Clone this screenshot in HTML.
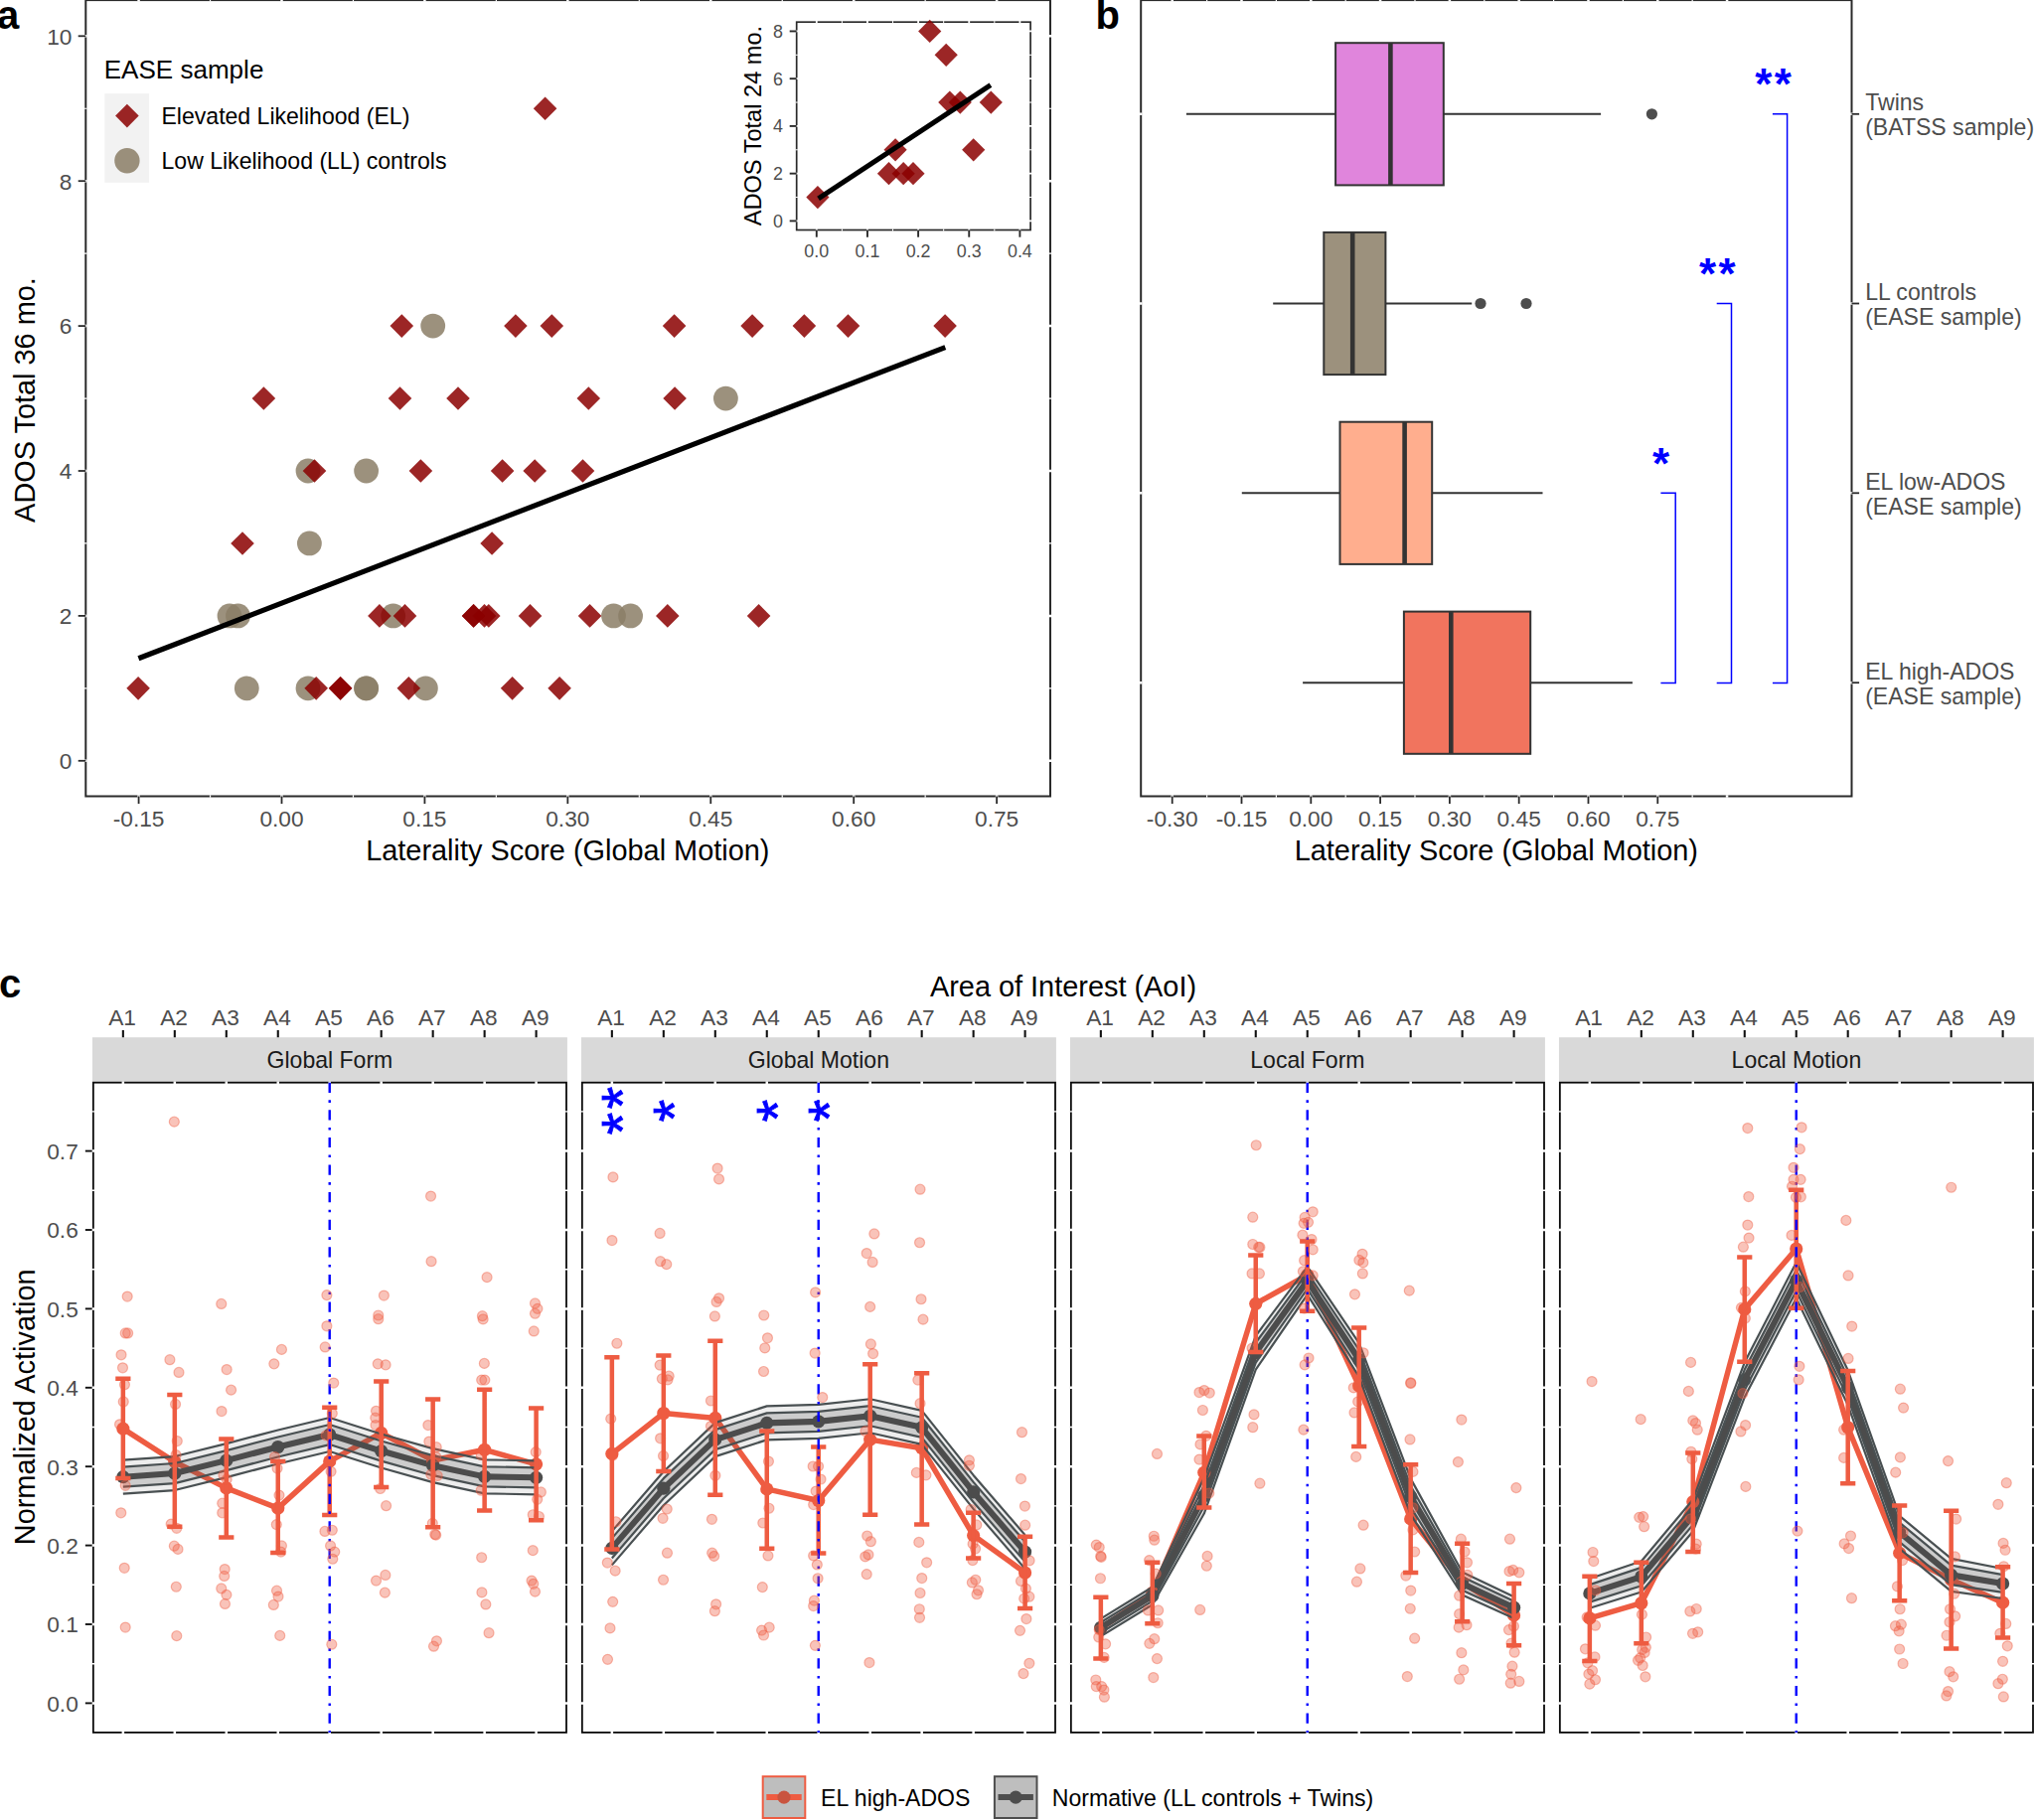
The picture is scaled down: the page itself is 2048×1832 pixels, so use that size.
<!DOCTYPE html>
<html lang="en"><head><meta charset="utf-8"><title>Figure</title>
<style>html,body{margin:0;padding:0;background:#fff}body{width:2048px;height:1832px;overflow:hidden}svg{display:block}text{font-family:"Liberation Sans", sans-serif}</style>
</head><body>
<svg width="2048" height="1832" viewBox="0 0 2048 1832" role="img" aria-label="Figure with panels a, b and c">
<rect width="2048" height="1832" fill="#fff"/>
<g id="panel-a">
<rect x="86.3" y="0.1" width="970.7" height="801.4" fill="#fff" stroke="#2a2a2a" stroke-width="2.0"/>
<path d="M211.54 -1.2V1.4M211.54 800.2V802.8M355.46 -1.2V1.4M355.46 800.2V802.8M499.39 -1.2V1.4M499.39 800.2V802.8M643.31 -1.2V1.4M643.31 800.2V802.8M787.24 -1.2V1.4M787.24 800.2V802.8M931.16 -1.2V1.4M931.16 800.2V802.8M85 692.85H87.6M1055.7 692.85H1058.3M85 546.95H87.6M1055.7 546.95H1058.3M85 401.05H87.6M1055.7 401.05H1058.3M85 255.15H87.6M1055.7 255.15H1058.3M85 109.25H87.6M1055.7 109.25H1058.3" stroke="#fff" stroke-width="1.2" fill="none"/>
<path d="M139.58 -1.2V1.4M139.58 800.2V802.8M283.5 -1.2V1.4M283.5 800.2V802.8M427.42 -1.2V1.4M427.42 800.2V802.8M571.35 -1.2V1.4M571.35 800.2V802.8M715.27 -1.2V1.4M715.27 800.2V802.8M859.2 -1.2V1.4M859.2 800.2V802.8M1003.12 -1.2V1.4M1003.12 800.2V802.8M85 765.8H87.6M1055.7 765.8H1058.3M85 619.9H87.6M1055.7 619.9H1058.3M85 474H87.6M1055.7 474H1058.3M85 328.1H87.6M1055.7 328.1H1058.3M85 182.2H87.6M1055.7 182.2H1058.3M85 36.3H87.6M1055.7 36.3H1058.3" stroke="#fff" stroke-width="2.5" fill="none"/>
<line x1="139.58" y1="801.5" x2="139.58" y2="809.1" stroke="#2a2a2a" stroke-width="1.8" />
<text x="139.58" y="832.2" font-size="22.7" fill="#4D4D4D" text-anchor="middle" >-0.15</text>
<line x1="283.5" y1="801.5" x2="283.5" y2="809.1" stroke="#2a2a2a" stroke-width="1.8" />
<text x="283.5" y="832.2" font-size="22.7" fill="#4D4D4D" text-anchor="middle" >0.00</text>
<line x1="427.42" y1="801.5" x2="427.42" y2="809.1" stroke="#2a2a2a" stroke-width="1.8" />
<text x="427.42" y="832.2" font-size="22.7" fill="#4D4D4D" text-anchor="middle" >0.15</text>
<line x1="571.35" y1="801.5" x2="571.35" y2="809.1" stroke="#2a2a2a" stroke-width="1.8" />
<text x="571.35" y="832.2" font-size="22.7" fill="#4D4D4D" text-anchor="middle" >0.30</text>
<line x1="715.27" y1="801.5" x2="715.27" y2="809.1" stroke="#2a2a2a" stroke-width="1.8" />
<text x="715.27" y="832.2" font-size="22.7" fill="#4D4D4D" text-anchor="middle" >0.45</text>
<line x1="859.2" y1="801.5" x2="859.2" y2="809.1" stroke="#2a2a2a" stroke-width="1.8" />
<text x="859.2" y="832.2" font-size="22.7" fill="#4D4D4D" text-anchor="middle" >0.60</text>
<line x1="1003.12" y1="801.5" x2="1003.12" y2="809.1" stroke="#2a2a2a" stroke-width="1.8" />
<text x="1003.12" y="832.2" font-size="22.7" fill="#4D4D4D" text-anchor="middle" >0.75</text>
<line x1="78.7" y1="765.8" x2="86.3" y2="765.8" stroke="#2a2a2a" stroke-width="1.8" />
<text x="72.4" y="774.1" font-size="22.7" fill="#4D4D4D" text-anchor="end" >0</text>
<line x1="78.7" y1="619.9" x2="86.3" y2="619.9" stroke="#2a2a2a" stroke-width="1.8" />
<text x="72.4" y="628.2" font-size="22.7" fill="#4D4D4D" text-anchor="end" >2</text>
<line x1="78.7" y1="474" x2="86.3" y2="474" stroke="#2a2a2a" stroke-width="1.8" />
<text x="72.4" y="482.3" font-size="22.7" fill="#4D4D4D" text-anchor="end" >4</text>
<line x1="78.7" y1="328.1" x2="86.3" y2="328.1" stroke="#2a2a2a" stroke-width="1.8" />
<text x="72.4" y="336.4" font-size="22.7" fill="#4D4D4D" text-anchor="end" >6</text>
<line x1="78.7" y1="182.2" x2="86.3" y2="182.2" stroke="#2a2a2a" stroke-width="1.8" />
<text x="72.4" y="190.5" font-size="22.7" fill="#4D4D4D" text-anchor="end" >8</text>
<line x1="78.7" y1="36.3" x2="86.3" y2="36.3" stroke="#2a2a2a" stroke-width="1.8" />
<text x="72.4" y="44.6" font-size="22.7" fill="#4D4D4D" text-anchor="end" >10</text>
<text x="571.3" y="865.5" font-size="28.9" fill="#000" text-anchor="middle" >Laterality Score (Global Motion)</text>
<text transform="translate(35.1,402.5) rotate(-90)" font-size="28.9" fill="#000" text-anchor="middle">ADOS Total 36 mo.</text>
<text x="104.7" y="78.7" font-size="26.05" fill="#000" text-anchor="start" >EASE sample</text>
<rect x="105.3" y="94.2" width="44.8" height="89.6" fill="#F2F2F2"/>
<path d="M127.9 104.8L139.7 116.6L127.9 128.4L116.1 116.6Z" fill="rgba(139,0,0,0.85)"/>
<circle cx="127.9" cy="161.8" r="12.7" fill="rgba(139,126,102,0.85)"/>
<text x="162.5" y="125.3" font-size="23.05" fill="#000" text-anchor="start" >Elevated Likelihood (EL)</text>
<text x="162.5" y="170.2" font-size="23.05" fill="#000" text-anchor="start" >Low Likelihood (LL) controls</text>
<circle cx="435.7" cy="328.1" r="12.4" fill="rgba(139,126,102,0.85)"/>
<circle cx="730.4" cy="401.05" r="12.4" fill="rgba(139,126,102,0.85)"/>
<circle cx="310" cy="474" r="12.4" fill="rgba(139,126,102,0.85)"/>
<circle cx="368.6" cy="474" r="12.4" fill="rgba(139,126,102,0.85)"/>
<circle cx="311.4" cy="546.95" r="12.4" fill="rgba(139,126,102,0.85)"/>
<circle cx="231" cy="619.9" r="12.4" fill="rgba(139,126,102,0.85)"/>
<circle cx="239.5" cy="619.9" r="12.4" fill="rgba(139,126,102,0.85)"/>
<circle cx="395.7" cy="619.9" r="12.4" fill="rgba(139,126,102,0.85)"/>
<circle cx="617.5" cy="619.9" r="12.4" fill="rgba(139,126,102,0.85)"/>
<circle cx="634.6" cy="619.9" r="12.4" fill="rgba(139,126,102,0.85)"/>
<circle cx="248.3" cy="692.85" r="12.4" fill="rgba(139,126,102,0.85)"/>
<circle cx="310" cy="692.85" r="12.4" fill="rgba(139,126,102,0.85)"/>
<circle cx="368.6" cy="692.85" r="12.4" fill="rgba(139,126,102,0.85)"/>
<circle cx="368.6" cy="692.85" r="12.4" fill="rgba(139,126,102,0.85)"/>
<circle cx="428.4" cy="692.85" r="12.4" fill="rgba(139,126,102,0.85)"/>
<path d="M548.6 97.45L560.4 109.25L548.6 121.05L536.8 109.25Z" fill="rgba(139,0,0,0.85)"/>
<path d="M404.3 316.3L416.1 328.1L404.3 339.9L392.5 328.1Z" fill="rgba(139,0,0,0.85)"/>
<path d="M518.9 316.3L530.7 328.1L518.9 339.9L507.1 328.1Z" fill="rgba(139,0,0,0.85)"/>
<path d="M555.3 316.3L567.1 328.1L555.3 339.9L543.5 328.1Z" fill="rgba(139,0,0,0.85)"/>
<path d="M678.6 316.3L690.4 328.1L678.6 339.9L666.8 328.1Z" fill="rgba(139,0,0,0.85)"/>
<path d="M757.1 316.3L768.9 328.1L757.1 339.9L745.3 328.1Z" fill="rgba(139,0,0,0.85)"/>
<path d="M809.4 316.3L821.2 328.1L809.4 339.9L797.6 328.1Z" fill="rgba(139,0,0,0.85)"/>
<path d="M853.5 316.3L865.3 328.1L853.5 339.9L841.7 328.1Z" fill="rgba(139,0,0,0.85)"/>
<path d="M951.1 316.3L962.9 328.1L951.1 339.9L939.3 328.1Z" fill="rgba(139,0,0,0.85)"/>
<path d="M265.4 389.25L277.2 401.05L265.4 412.85L253.6 401.05Z" fill="rgba(139,0,0,0.85)"/>
<path d="M402.5 389.25L414.3 401.05L402.5 412.85L390.7 401.05Z" fill="rgba(139,0,0,0.85)"/>
<path d="M461 389.25L472.8 401.05L461 412.85L449.2 401.05Z" fill="rgba(139,0,0,0.85)"/>
<path d="M592.3 389.25L604.1 401.05L592.3 412.85L580.5 401.05Z" fill="rgba(139,0,0,0.85)"/>
<path d="M679.1 389.25L690.9 401.05L679.1 412.85L667.3 401.05Z" fill="rgba(139,0,0,0.85)"/>
<path d="M316.5 462.2L328.3 474L316.5 485.8L304.7 474Z" fill="rgba(139,0,0,0.85)"/>
<path d="M423.4 462.2L435.2 474L423.4 485.8L411.6 474Z" fill="rgba(139,0,0,0.85)"/>
<path d="M505.6 462.2L517.4 474L505.6 485.8L493.8 474Z" fill="rgba(139,0,0,0.85)"/>
<path d="M538.2 462.2L550 474L538.2 485.8L526.4 474Z" fill="rgba(139,0,0,0.85)"/>
<path d="M586.5 462.2L598.3 474L586.5 485.8L574.7 474Z" fill="rgba(139,0,0,0.85)"/>
<path d="M244 535.15L255.8 546.95L244 558.75L232.2 546.95Z" fill="rgba(139,0,0,0.85)"/>
<path d="M495.1 535.15L506.9 546.95L495.1 558.75L483.3 546.95Z" fill="rgba(139,0,0,0.85)"/>
<path d="M381.9 608.1L393.7 619.9L381.9 631.7L370.1 619.9Z" fill="rgba(139,0,0,0.85)"/>
<path d="M407.5 608.1L419.3 619.9L407.5 631.7L395.7 619.9Z" fill="rgba(139,0,0,0.85)"/>
<path d="M476.6 608.1L488.4 619.9L476.6 631.7L464.8 619.9Z" fill="rgba(139,0,0,0.85)"/>
<path d="M476.6 608.1L488.4 619.9L476.6 631.7L464.8 619.9Z" fill="rgba(139,0,0,0.85)"/>
<path d="M487.5 608.1L499.3 619.9L487.5 631.7L475.7 619.9Z" fill="rgba(139,0,0,0.85)"/>
<path d="M491.8 608.1L503.6 619.9L491.8 631.7L480 619.9Z" fill="rgba(139,0,0,0.85)"/>
<path d="M533.5 608.1L545.3 619.9L533.5 631.7L521.7 619.9Z" fill="rgba(139,0,0,0.85)"/>
<path d="M593.6 608.1L605.4 619.9L593.6 631.7L581.8 619.9Z" fill="rgba(139,0,0,0.85)"/>
<path d="M671.8 608.1L683.6 619.9L671.8 631.7L660 619.9Z" fill="rgba(139,0,0,0.85)"/>
<path d="M763.6 608.1L775.4 619.9L763.6 631.7L751.8 619.9Z" fill="rgba(139,0,0,0.85)"/>
<path d="M139.1 681.05L150.9 692.85L139.1 704.65L127.3 692.85Z" fill="rgba(139,0,0,0.85)"/>
<path d="M318.2 681.05L330 692.85L318.2 704.65L306.4 692.85Z" fill="rgba(139,0,0,0.85)"/>
<path d="M342.6 681.05L354.4 692.85L342.6 704.65L330.8 692.85Z" fill="rgba(139,0,0,0.85)"/>
<path d="M342.6 681.05L354.4 692.85L342.6 704.65L330.8 692.85Z" fill="rgba(139,0,0,0.85)"/>
<path d="M411.3 681.05L423.1 692.85L411.3 704.65L399.5 692.85Z" fill="rgba(139,0,0,0.85)"/>
<path d="M515.6 681.05L527.4 692.85L515.6 704.65L503.8 692.85Z" fill="rgba(139,0,0,0.85)"/>
<path d="M563.1 681.05L574.9 692.85L563.1 704.65L551.3 692.85Z" fill="rgba(139,0,0,0.85)"/>
<line x1="139.4" y1="662.7" x2="951.3" y2="349.6" stroke="#000" stroke-width="5.2" />
<rect x="801.7" y="22.2" width="235.4" height="209.3" fill="#fff" stroke="#2a2a2a" stroke-width="1.7"/>
<path d="M847.38 21.05V23.35M847.38 230.35V232.65M898.52 21.05V23.35M898.52 230.35V232.65M949.67 21.05V23.35M949.67 230.35V232.65M1000.82 21.05V23.35M1000.82 230.35V232.65M800.55 198.53H802.85M1035.95 198.53H1038.25M800.55 150.79H802.85M1035.95 150.79H1038.25M800.55 103.05H802.85M1035.95 103.05H1038.25M800.55 55.31H802.85M1035.95 55.31H1038.25" stroke="#fff" stroke-width="1.0" fill="none"/>
<path d="M821.8 21.05V23.35M821.8 230.35V232.65M872.95 21.05V23.35M872.95 230.35V232.65M924.1 21.05V23.35M924.1 230.35V232.65M975.25 21.05V23.35M975.25 230.35V232.65M1026.4 21.05V23.35M1026.4 230.35V232.65M800.55 222.4H802.85M1035.95 222.4H1038.25M800.55 174.66H802.85M1035.95 174.66H1038.25M800.55 126.92H802.85M1035.95 126.92H1038.25M800.55 79.18H802.85M1035.95 79.18H1038.25M800.55 31.44H802.85M1035.95 31.44H1038.25" stroke="#fff" stroke-width="1.8" fill="none"/>
<line x1="821.8" y1="231.5" x2="821.8" y2="238.7" stroke="#2a2a2a" stroke-width="1.9" />
<text x="821.8" y="258.6" font-size="17.9" fill="#4D4D4D" text-anchor="middle" >0.0</text>
<line x1="872.95" y1="231.5" x2="872.95" y2="238.7" stroke="#2a2a2a" stroke-width="1.9" />
<text x="872.95" y="258.6" font-size="17.9" fill="#4D4D4D" text-anchor="middle" >0.1</text>
<line x1="924.1" y1="231.5" x2="924.1" y2="238.7" stroke="#2a2a2a" stroke-width="1.9" />
<text x="924.1" y="258.6" font-size="17.9" fill="#4D4D4D" text-anchor="middle" >0.2</text>
<line x1="975.25" y1="231.5" x2="975.25" y2="238.7" stroke="#2a2a2a" stroke-width="1.9" />
<text x="975.25" y="258.6" font-size="17.9" fill="#4D4D4D" text-anchor="middle" >0.3</text>
<line x1="1026.4" y1="231.5" x2="1026.4" y2="238.7" stroke="#2a2a2a" stroke-width="1.9" />
<text x="1026.4" y="258.6" font-size="17.9" fill="#4D4D4D" text-anchor="middle" >0.4</text>
<line x1="794.7" y1="222.4" x2="801.7" y2="222.4" stroke="#2a2a2a" stroke-width="1.9" />
<text x="788" y="228.9" font-size="17.9" fill="#4D4D4D" text-anchor="end" >0</text>
<line x1="794.7" y1="174.66" x2="801.7" y2="174.66" stroke="#2a2a2a" stroke-width="1.9" />
<text x="788" y="181.16" font-size="17.9" fill="#4D4D4D" text-anchor="end" >2</text>
<line x1="794.7" y1="126.92" x2="801.7" y2="126.92" stroke="#2a2a2a" stroke-width="1.9" />
<text x="788" y="133.42" font-size="17.9" fill="#4D4D4D" text-anchor="end" >4</text>
<line x1="794.7" y1="79.18" x2="801.7" y2="79.18" stroke="#2a2a2a" stroke-width="1.9" />
<text x="788" y="85.68" font-size="17.9" fill="#4D4D4D" text-anchor="end" >6</text>
<line x1="794.7" y1="31.44" x2="801.7" y2="31.44" stroke="#2a2a2a" stroke-width="1.9" />
<text x="788" y="37.94" font-size="17.9" fill="#4D4D4D" text-anchor="end" >8</text>
<text transform="translate(766.2,126.6) rotate(-90)" font-size="23.6" fill="#000" text-anchor="middle">ADOS Total 24 mo.</text>
<path d="M822.9 186.93L834.5 198.53L822.9 210.13L811.3 198.53Z" fill="rgba(139,0,0,0.85)"/>
<path d="M894.5 163.06L906.1 174.66L894.5 186.26L882.9 174.66Z" fill="rgba(139,0,0,0.85)"/>
<path d="M909.2 163.06L920.8 174.66L909.2 186.26L897.6 174.66Z" fill="rgba(139,0,0,0.85)"/>
<path d="M919 163.06L930.6 174.66L919 186.26L907.4 174.66Z" fill="rgba(139,0,0,0.85)"/>
<path d="M901.1 139.19L912.7 150.79L901.1 162.39L889.5 150.79Z" fill="rgba(139,0,0,0.85)"/>
<path d="M979.7 139.19L991.3 150.79L979.7 162.39L968.1 150.79Z" fill="rgba(139,0,0,0.85)"/>
<path d="M955.8 91.45L967.4 103.05L955.8 114.65L944.2 103.05Z" fill="rgba(139,0,0,0.85)"/>
<path d="M966.3 91.45L977.9 103.05L966.3 114.65L954.7 103.05Z" fill="rgba(139,0,0,0.85)"/>
<path d="M997.3 91.45L1008.9 103.05L997.3 114.65L985.7 103.05Z" fill="rgba(139,0,0,0.85)"/>
<path d="M952.2 43.71L963.8 55.31L952.2 66.91L940.6 55.31Z" fill="rgba(139,0,0,0.85)"/>
<path d="M935.7 19.84L947.3 31.44L935.7 43.04L924.1 31.44Z" fill="rgba(139,0,0,0.85)"/>
<line x1="823.6" y1="199.9" x2="996.9" y2="85.6" stroke="#000" stroke-width="5.0" />
</g>
<g id="panel-b">
<rect x="1148.2" y="0.1" width="715.3" height="801.4" fill="#fff" stroke="#2a2a2a" stroke-width="2.0"/>
<path d="M1214.61 -1.2V1.4M1214.61 800.2V802.8M1284.4 -1.2V1.4M1284.4 800.2V802.8M1354.2 -1.2V1.4M1354.2 800.2V802.8M1423.99 -1.2V1.4M1423.99 800.2V802.8M1493.79 -1.2V1.4M1493.79 800.2V802.8M1563.58 -1.2V1.4M1563.58 800.2V802.8M1633.38 -1.2V1.4M1633.38 800.2V802.8M1703.17 -1.2V1.4M1703.17 800.2V802.8" stroke="#fff" stroke-width="1.2" fill="none"/>
<path d="M1179.71 -1.2V1.4M1179.71 800.2V802.8M1249.5 -1.2V1.4M1249.5 800.2V802.8M1319.3 -1.2V1.4M1319.3 800.2V802.8M1389.1 -1.2V1.4M1389.1 800.2V802.8M1458.89 -1.2V1.4M1458.89 800.2V802.8M1528.68 -1.2V1.4M1528.68 800.2V802.8M1598.48 -1.2V1.4M1598.48 800.2V802.8M1668.28 -1.2V1.4M1668.28 800.2V802.8M1738.07 -1.2V1.4M1738.07 800.2V802.8M1146.9 114.8H1149.5M1862.2 114.8H1864.8M1146.9 305.5H1149.5M1862.2 305.5H1864.8M1146.9 496.3H1149.5M1862.2 496.3H1864.8M1146.9 687.2H1149.5M1862.2 687.2H1864.8" stroke="#fff" stroke-width="2.5" fill="none"/>
<line x1="1179.71" y1="801.5" x2="1179.71" y2="809.1" stroke="#2a2a2a" stroke-width="1.8" />
<text x="1179.71" y="832.2" font-size="22.7" fill="#4D4D4D" text-anchor="middle" >-0.30</text>
<line x1="1249.5" y1="801.5" x2="1249.5" y2="809.1" stroke="#2a2a2a" stroke-width="1.8" />
<text x="1249.5" y="832.2" font-size="22.7" fill="#4D4D4D" text-anchor="middle" >-0.15</text>
<line x1="1319.3" y1="801.5" x2="1319.3" y2="809.1" stroke="#2a2a2a" stroke-width="1.8" />
<text x="1319.3" y="832.2" font-size="22.7" fill="#4D4D4D" text-anchor="middle" >0.00</text>
<line x1="1389.1" y1="801.5" x2="1389.1" y2="809.1" stroke="#2a2a2a" stroke-width="1.8" />
<text x="1389.1" y="832.2" font-size="22.7" fill="#4D4D4D" text-anchor="middle" >0.15</text>
<line x1="1458.89" y1="801.5" x2="1458.89" y2="809.1" stroke="#2a2a2a" stroke-width="1.8" />
<text x="1458.89" y="832.2" font-size="22.7" fill="#4D4D4D" text-anchor="middle" >0.30</text>
<line x1="1528.68" y1="801.5" x2="1528.68" y2="809.1" stroke="#2a2a2a" stroke-width="1.8" />
<text x="1528.68" y="832.2" font-size="22.7" fill="#4D4D4D" text-anchor="middle" >0.45</text>
<line x1="1598.48" y1="801.5" x2="1598.48" y2="809.1" stroke="#2a2a2a" stroke-width="1.8" />
<text x="1598.48" y="832.2" font-size="22.7" fill="#4D4D4D" text-anchor="middle" >0.60</text>
<line x1="1668.28" y1="801.5" x2="1668.28" y2="809.1" stroke="#2a2a2a" stroke-width="1.8" />
<text x="1668.28" y="832.2" font-size="22.7" fill="#4D4D4D" text-anchor="middle" >0.75</text>
<text x="1505.8" y="865.5" font-size="28.9" fill="#000" text-anchor="middle" >Laterality Score (Global Motion)</text>
<line x1="1863.5" y1="114.8" x2="1871.1" y2="114.8" stroke="#2a2a2a" stroke-width="1.8" />
<text x="1877.2" y="111.4" font-size="23.05" fill="#4D4D4D" text-anchor="start" >Twins</text>
<text x="1877.2" y="136.4" font-size="23.05" fill="#4D4D4D" text-anchor="start" >(BATSS sample)</text>
<line x1="1863.5" y1="305.5" x2="1871.1" y2="305.5" stroke="#2a2a2a" stroke-width="1.8" />
<text x="1877.2" y="302.1" font-size="23.05" fill="#4D4D4D" text-anchor="start" >LL controls</text>
<text x="1877.2" y="327.1" font-size="23.05" fill="#4D4D4D" text-anchor="start" >(EASE sample)</text>
<line x1="1863.5" y1="496.3" x2="1871.1" y2="496.3" stroke="#2a2a2a" stroke-width="1.8" />
<text x="1877.2" y="492.9" font-size="23.05" fill="#4D4D4D" text-anchor="start" >EL low-ADOS</text>
<text x="1877.2" y="517.9" font-size="23.05" fill="#4D4D4D" text-anchor="start" >(EASE sample)</text>
<line x1="1863.5" y1="687.2" x2="1871.1" y2="687.2" stroke="#2a2a2a" stroke-width="1.8" />
<text x="1877.2" y="683.8" font-size="23.05" fill="#4D4D4D" text-anchor="start" >EL high-ADOS</text>
<text x="1877.2" y="708.8" font-size="23.05" fill="#4D4D4D" text-anchor="start" >(EASE sample)</text>
<circle cx="1662.4" cy="114.8" r="5.6" fill="#4D4D4D"/>
<line x1="1193.9" y1="114.8" x2="1344.1" y2="114.8" stroke="#333" stroke-width="2.0" />
<line x1="1452.8" y1="114.8" x2="1611.1" y2="114.8" stroke="#333" stroke-width="2.0" />
<rect x="1344.1" y="43.2" width="108.7" height="143.2" fill="rgba(218,112,214,0.85)" stroke="#333" stroke-width="2.0" stroke-linejoin="miter"/>
<line x1="1399.4" y1="43.2" x2="1399.4" y2="186.4" stroke="#333" stroke-width="4.6" />
<circle cx="1490" cy="305.5" r="5.6" fill="#4D4D4D"/>
<circle cx="1536" cy="305.5" r="5.6" fill="#4D4D4D"/>
<line x1="1281.2" y1="305.5" x2="1332.3" y2="305.5" stroke="#333" stroke-width="2.0" />
<line x1="1394.4" y1="305.5" x2="1481.2" y2="305.5" stroke="#333" stroke-width="2.0" />
<rect x="1332.3" y="233.9" width="62.1" height="143.2" fill="rgba(139,126,102,0.85)" stroke="#333" stroke-width="2.0" stroke-linejoin="miter"/>
<line x1="1361.2" y1="233.9" x2="1361.2" y2="377.1" stroke="#333" stroke-width="4.6" />
<line x1="1249.8" y1="496.3" x2="1348.5" y2="496.3" stroke="#333" stroke-width="2.0" />
<line x1="1441.2" y1="496.3" x2="1552.5" y2="496.3" stroke="#333" stroke-width="2.0" />
<rect x="1348.5" y="424.7" width="92.7" height="143.2" fill="rgba(255,160,122,0.85)" stroke="#333" stroke-width="2.0" stroke-linejoin="miter"/>
<line x1="1413.6" y1="424.7" x2="1413.6" y2="567.9" stroke="#333" stroke-width="4.6" />
<line x1="1311.1" y1="687.2" x2="1412.9" y2="687.2" stroke="#333" stroke-width="2.0" />
<line x1="1540.2" y1="687.2" x2="1642.9" y2="687.2" stroke="#333" stroke-width="2.0" />
<rect x="1412.9" y="615.6" width="127.3" height="143.2" fill="rgba(238,92,66,0.85)" stroke="#333" stroke-width="2.0" stroke-linejoin="miter"/>
<line x1="1460.3" y1="615.6" x2="1460.3" y2="758.8" stroke="#333" stroke-width="4.6" />
<path d="M1671.4 496.3H1686.2V687.4H1671.4" fill="none" stroke="#0000FF" stroke-width="1.5"/>
<path d="M1727.7 305.6H1742.5V687.4H1727.7" fill="none" stroke="#0000FF" stroke-width="1.5"/>
<path d="M1783.9 114.8H1798.6V687.4H1783.9" fill="none" stroke="#0000FF" stroke-width="1.5"/>
<text x="1662.92" y="481.5" font-size="44" fill="#0000FF" text-anchor="start" font-weight="bold">*</text>
<text x="1709.92" y="291" font-size="44" fill="#0000FF" text-anchor="start" font-weight="bold">*</text>
<text x="1729.52" y="291" font-size="44" fill="#0000FF" text-anchor="start" font-weight="bold">*</text>
<text x="1766.22" y="100.4" font-size="44" fill="#0000FF" text-anchor="start" font-weight="bold">*</text>
<text x="1785.82" y="100.4" font-size="44" fill="#0000FF" text-anchor="start" font-weight="bold">*</text>
</g>
<text x="-3" y="28.6" font-size="40" fill="#000" text-anchor="start" font-weight="bold">a</text>
<text x="1102.4" y="28.6" font-size="40" fill="#000" text-anchor="start" font-weight="bold">b</text>
<text x="-1" y="1003.8" font-size="40" fill="#000" text-anchor="start" font-weight="bold">c</text>
<g id="panel-c">
<text x="1070" y="1002.8" font-size="28.9" fill="#000" text-anchor="middle" >Area of Interest (AoI)</text>
<text transform="translate(35.1,1416.3) rotate(-90)" font-size="28.9" fill="#000" text-anchor="middle">Normalized Activation</text>
<line x1="85.85" y1="1714.4" x2="93.85" y2="1714.4" stroke="#111" stroke-width="1.9" />
<text x="78.8" y="1722.7" font-size="22.7" fill="#4D4D4D" text-anchor="end" >0.0</text>
<line x1="85.85" y1="1635" x2="93.85" y2="1635" stroke="#111" stroke-width="1.9" />
<text x="78.8" y="1643.3" font-size="22.7" fill="#4D4D4D" text-anchor="end" >0.1</text>
<line x1="85.85" y1="1555.6" x2="93.85" y2="1555.6" stroke="#111" stroke-width="1.9" />
<text x="78.8" y="1563.9" font-size="22.7" fill="#4D4D4D" text-anchor="end" >0.2</text>
<line x1="85.85" y1="1476.2" x2="93.85" y2="1476.2" stroke="#111" stroke-width="1.9" />
<text x="78.8" y="1484.5" font-size="22.7" fill="#4D4D4D" text-anchor="end" >0.3</text>
<line x1="85.85" y1="1396.8" x2="93.85" y2="1396.8" stroke="#111" stroke-width="1.9" />
<text x="78.8" y="1405.1" font-size="22.7" fill="#4D4D4D" text-anchor="end" >0.4</text>
<line x1="85.85" y1="1317.4" x2="93.85" y2="1317.4" stroke="#111" stroke-width="1.9" />
<text x="78.8" y="1325.7" font-size="22.7" fill="#4D4D4D" text-anchor="end" >0.5</text>
<line x1="85.85" y1="1238" x2="93.85" y2="1238" stroke="#111" stroke-width="1.9" />
<text x="78.8" y="1246.3" font-size="22.7" fill="#4D4D4D" text-anchor="end" >0.6</text>
<line x1="85.85" y1="1158.6" x2="93.85" y2="1158.6" stroke="#111" stroke-width="1.9" />
<text x="78.8" y="1166.9" font-size="22.7" fill="#4D4D4D" text-anchor="end" >0.7</text>
<g id="facet-1">
<rect x="92.95" y="1044.2" width="477.95" height="45.4" fill="#D9D9D9"/>
<rect x="93.85" y="1089.7" width="476.15" height="654.2" fill="#fff" stroke="#0a0a0a" stroke-width="1.8"/>
<path d="M92.65 1674.7H95.05M568.8 1674.7H571.2M92.65 1595.3H95.05M568.8 1595.3H571.2M92.65 1515.9H95.05M568.8 1515.9H571.2M92.65 1436.5H95.05M568.8 1436.5H571.2M92.65 1357.1H95.05M568.8 1357.1H571.2M92.65 1277.7H95.05M568.8 1277.7H571.2M92.65 1198.3H95.05M568.8 1198.3H571.2M92.65 1118.9H95.05M568.8 1118.9H571.2" stroke="#fff" stroke-width="1.4" fill="none"/>
<path d="M123.85 1088.5V1090.9M123.85 1742.7V1745.1M175.82 1088.5V1090.9M175.82 1742.7V1745.1M227.79 1088.5V1090.9M227.79 1742.7V1745.1M279.76 1088.5V1090.9M279.76 1742.7V1745.1M331.73 1088.5V1090.9M331.73 1742.7V1745.1M383.7 1088.5V1090.9M383.7 1742.7V1745.1M435.67 1088.5V1090.9M435.67 1742.7V1745.1M487.64 1088.5V1090.9M487.64 1742.7V1745.1M539.61 1088.5V1090.9M539.61 1742.7V1745.1M92.65 1714.4H95.05M568.8 1714.4H571.2M92.65 1635H95.05M568.8 1635H571.2M92.65 1555.6H95.05M568.8 1555.6H571.2M92.65 1476.2H95.05M568.8 1476.2H571.2M92.65 1396.8H95.05M568.8 1396.8H571.2M92.65 1317.4H95.05M568.8 1317.4H571.2M92.65 1238H95.05M568.8 1238H571.2M92.65 1158.6H95.05M568.8 1158.6H571.2" stroke="#fff" stroke-width="2.5" fill="none"/>
<text x="331.92" y="1075" font-size="23.05" fill="#1A1A1A" text-anchor="middle" >Global Form</text>
<line x1="123.85" y1="1037" x2="123.85" y2="1044.2" stroke="#111" stroke-width="2.1" />
<text x="123.05" y="1031.7" font-size="22.7" fill="#4D4D4D" text-anchor="middle" >A1</text>
<line x1="175.82" y1="1037" x2="175.82" y2="1044.2" stroke="#111" stroke-width="2.1" />
<text x="175.02" y="1031.7" font-size="22.7" fill="#4D4D4D" text-anchor="middle" >A2</text>
<line x1="227.79" y1="1037" x2="227.79" y2="1044.2" stroke="#111" stroke-width="2.1" />
<text x="226.99" y="1031.7" font-size="22.7" fill="#4D4D4D" text-anchor="middle" >A3</text>
<line x1="279.76" y1="1037" x2="279.76" y2="1044.2" stroke="#111" stroke-width="2.1" />
<text x="278.96" y="1031.7" font-size="22.7" fill="#4D4D4D" text-anchor="middle" >A4</text>
<line x1="331.73" y1="1037" x2="331.73" y2="1044.2" stroke="#111" stroke-width="2.1" />
<text x="330.93" y="1031.7" font-size="22.7" fill="#4D4D4D" text-anchor="middle" >A5</text>
<line x1="383.7" y1="1037" x2="383.7" y2="1044.2" stroke="#111" stroke-width="2.1" />
<text x="382.9" y="1031.7" font-size="22.7" fill="#4D4D4D" text-anchor="middle" >A6</text>
<line x1="435.67" y1="1037" x2="435.67" y2="1044.2" stroke="#111" stroke-width="2.1" />
<text x="434.87" y="1031.7" font-size="22.7" fill="#4D4D4D" text-anchor="middle" >A7</text>
<line x1="487.64" y1="1037" x2="487.64" y2="1044.2" stroke="#111" stroke-width="2.1" />
<text x="486.84" y="1031.7" font-size="22.7" fill="#4D4D4D" text-anchor="middle" >A8</text>
<line x1="539.61" y1="1037" x2="539.61" y2="1044.2" stroke="#111" stroke-width="2.1" />
<text x="538.81" y="1031.7" font-size="22.7" fill="#4D4D4D" text-anchor="middle" >A9</text>
<polyline points="123.85,1438.09 175.82,1471.44 227.79,1497.88 279.76,1518.12 331.73,1470.88 383.7,1442.46 435.67,1470.01 487.64,1459.29 539.61,1473.82" fill="none" stroke="#EE5C42" stroke-width="5.5" stroke-linejoin="round"/>
<polyline points="123.85,1486.68 175.82,1483.03 227.79,1470.09 279.76,1456.51 331.73,1444.04 383.7,1460.56 435.67,1475.17 487.64,1486.36 539.61,1487.32" fill="none" stroke="#4D4D4D" stroke-width="6.1" stroke-linejoin="round"/>
<circle cx="123.85" cy="1438.09" r="6.6" fill="#EE5C42"/>
<circle cx="175.82" cy="1471.44" r="6.6" fill="#EE5C42"/>
<circle cx="227.79" cy="1497.88" r="6.6" fill="#EE5C42"/>
<circle cx="279.76" cy="1518.12" r="6.6" fill="#EE5C42"/>
<circle cx="331.73" cy="1470.88" r="6.6" fill="#EE5C42"/>
<circle cx="383.7" cy="1442.46" r="6.6" fill="#EE5C42"/>
<circle cx="435.67" cy="1470.01" r="6.6" fill="#EE5C42"/>
<circle cx="487.64" cy="1459.29" r="6.6" fill="#EE5C42"/>
<circle cx="539.61" cy="1473.82" r="6.6" fill="#EE5C42"/>
<circle cx="123.85" cy="1486.68" r="6.6" fill="#4D4D4D"/>
<circle cx="175.82" cy="1483.03" r="6.6" fill="#4D4D4D"/>
<circle cx="227.79" cy="1470.09" r="6.6" fill="#4D4D4D"/>
<circle cx="279.76" cy="1456.51" r="6.6" fill="#4D4D4D"/>
<circle cx="331.73" cy="1444.04" r="6.6" fill="#4D4D4D"/>
<circle cx="383.7" cy="1460.56" r="6.6" fill="#4D4D4D"/>
<circle cx="435.67" cy="1475.17" r="6.6" fill="#4D4D4D"/>
<circle cx="487.64" cy="1486.36" r="6.6" fill="#4D4D4D"/>
<circle cx="539.61" cy="1487.32" r="6.6" fill="#4D4D4D"/>
<polygon points="123.85,1469.68 175.82,1466.03 227.79,1453.09 279.76,1439.51 331.73,1427.04 383.7,1443.56 435.67,1458.17 487.64,1469.36 539.61,1470.32 539.61,1504.32 487.64,1503.36 435.67,1492.17 383.7,1477.56 331.73,1461.04 279.76,1473.51 227.79,1487.09 175.82,1500.03 123.85,1503.68" fill="rgba(77,77,77,0.1)"/>
<polyline points="123.85,1469.68 175.82,1466.03 227.79,1453.09 279.76,1439.51 331.73,1427.04 383.7,1443.56 435.67,1458.17 487.64,1469.36 539.61,1470.32" fill="none" stroke="#495052" stroke-width="2.2" stroke-linejoin="round"/>
<polyline points="123.85,1503.68 175.82,1500.03 227.79,1487.09 279.76,1473.51 331.73,1461.04 383.7,1477.56 435.67,1492.17 487.64,1503.36 539.61,1504.32" fill="none" stroke="#495052" stroke-width="2.2" stroke-linejoin="round"/>
<polygon points="123.85,1476.65 175.82,1473 227.79,1460.06 279.76,1446.48 331.73,1434.01 383.7,1450.53 435.67,1465.14 487.64,1476.33 539.61,1477.29 539.61,1497.35 487.64,1496.39 435.67,1485.2 383.7,1470.59 331.73,1454.07 279.76,1466.54 227.79,1480.12 175.82,1493.06 123.85,1496.71" fill="rgba(77,77,77,0.2)"/>
<polyline points="123.85,1476.65 175.82,1473 227.79,1460.06 279.76,1446.48 331.73,1434.01 383.7,1450.53 435.67,1465.14 487.64,1476.33 539.61,1477.29" fill="none" stroke="#495052" stroke-width="2.2" stroke-linejoin="round"/>
<polyline points="123.85,1496.71 175.82,1493.06 227.79,1480.12 279.76,1466.54 331.73,1454.07 383.7,1470.59 435.67,1485.2 487.64,1496.39 539.61,1497.35" fill="none" stroke="#495052" stroke-width="2.2" stroke-linejoin="round"/>
<path d="M123.85 1387.67V1488.11M116.25 1387.67H131.45M116.25 1488.11H131.45M175.82 1403.95V1536.78M168.22 1403.95H183.42M168.22 1536.78H183.42M227.79 1448.41V1547.42M220.19 1448.41H235.39M220.19 1547.42H235.39M279.76 1470.88V1562.9M272.16 1470.88H287.36M272.16 1562.9H287.36M331.73 1416.65V1525.03M324.13 1416.65H339.33M324.13 1525.03H339.33M383.7 1390.45V1497M376.1 1390.45H391.3M376.1 1497H391.3M435.67 1408.47V1537.34M428.07 1408.47H443.27M428.07 1537.34H443.27M487.64 1398.63V1520.43M480.04 1398.63H495.24M480.04 1520.43H495.24M539.61 1417.6V1530.19M532.01 1417.6H547.21M532.01 1530.19H547.21" fill="none" stroke="#EE5C42" stroke-width="4.5"/>
<line x1="331.73" y1="1089.7" x2="331.73" y2="1743.9" stroke="#0000FF" stroke-width="2.4" stroke-dasharray="10.2 7.4 2.6 7.4"/>
<g fill="rgba(238,92,66,0.37)" stroke="rgba(238,92,66,0.42)" stroke-width="1.2">
<circle cx="175.33" cy="1129.14" r="5.0"/>
<circle cx="128.16" cy="1305.06" r="5.0"/>
<circle cx="126.19" cy="1341.92" r="5.0"/>
<circle cx="128.65" cy="1341.92" r="5.0"/>
<circle cx="122.01" cy="1363.78" r="5.0"/>
<circle cx="123.49" cy="1376.81" r="5.0"/>
<circle cx="125.45" cy="1393.76" r="5.0"/>
<circle cx="124.23" cy="1410.96" r="5.0"/>
<circle cx="120.54" cy="1433.81" r="5.0"/>
<circle cx="170.91" cy="1368.7" r="5.0"/>
<circle cx="180" cy="1381.47" r="5.0"/>
<circle cx="176.56" cy="1413.42" r="5.0"/>
<circle cx="222.75" cy="1312.43" r="5.0"/>
<circle cx="228.16" cy="1378.53" r="5.0"/>
<circle cx="232.58" cy="1399.16" r="5.0"/>
<circle cx="223" cy="1420.54" r="5.0"/>
<circle cx="283.44" cy="1358.38" r="5.0"/>
<circle cx="275.82" cy="1372.87" r="5.0"/>
<circle cx="328.89" cy="1303.59" r="5.0"/>
<circle cx="328.89" cy="1334.79" r="5.0"/>
<circle cx="327.17" cy="1355.92" r="5.0"/>
<circle cx="335.77" cy="1392.04" r="5.0"/>
<circle cx="334.3" cy="1422.75" r="5.0"/>
<circle cx="386.39" cy="1304.08" r="5.0"/>
<circle cx="380.74" cy="1323.98" r="5.0"/>
<circle cx="380.74" cy="1327.67" r="5.0"/>
<circle cx="380.25" cy="1372.87" r="5.0"/>
<circle cx="388.11" cy="1373.86" r="5.0"/>
<circle cx="378.53" cy="1420.29" r="5.0"/>
<circle cx="377.79" cy="1427.17" r="5.0"/>
<circle cx="378.03" cy="1434.55" r="5.0"/>
<circle cx="433.56" cy="1204.08" r="5.0"/>
<circle cx="434.05" cy="1269.68" r="5.0"/>
<circle cx="430.86" cy="1434.55" r="5.0"/>
<circle cx="490.07" cy="1285.65" r="5.0"/>
<circle cx="485.41" cy="1324.72" r="5.0"/>
<circle cx="486.14" cy="1327.91" r="5.0"/>
<circle cx="487.37" cy="1372.38" r="5.0"/>
<circle cx="484.67" cy="1389.09" r="5.0"/>
<circle cx="487.86" cy="1389.09" r="5.0"/>
<circle cx="538.48" cy="1311.94" r="5.0"/>
<circle cx="540.93" cy="1317.35" r="5.0"/>
<circle cx="538.48" cy="1322.26" r="5.0"/>
<circle cx="537.25" cy="1339.95" r="5.0"/>
<circle cx="126.19" cy="1495.28" r="5.0"/>
<circle cx="121.77" cy="1522.8" r="5.0"/>
<circle cx="125.21" cy="1578.33" r="5.0"/>
<circle cx="126.19" cy="1638.03" r="5.0"/>
<circle cx="178.28" cy="1450.57" r="5.0"/>
<circle cx="177.05" cy="1464.57" r="5.0"/>
<circle cx="172.14" cy="1534.1" r="5.0"/>
<circle cx="177.79" cy="1538.28" r="5.0"/>
<circle cx="175.33" cy="1556.22" r="5.0"/>
<circle cx="179.02" cy="1559.41" r="5.0"/>
<circle cx="177.3" cy="1597.25" r="5.0"/>
<circle cx="177.79" cy="1646.63" r="5.0"/>
<circle cx="224.96" cy="1484.96" r="5.0"/>
<circle cx="228.16" cy="1489.14" r="5.0"/>
<circle cx="223.73" cy="1513.22" r="5.0"/>
<circle cx="223.73" cy="1522.8" r="5.0"/>
<circle cx="226.19" cy="1579.56" r="5.0"/>
<circle cx="225.7" cy="1586.44" r="5.0"/>
<circle cx="222.75" cy="1598.97" r="5.0"/>
<circle cx="227.91" cy="1605.36" r="5.0"/>
<circle cx="226.44" cy="1614.45" r="5.0"/>
<circle cx="276.56" cy="1466.54" r="5.0"/>
<circle cx="279.02" cy="1478.08" r="5.0"/>
<circle cx="280.98" cy="1505.11" r="5.0"/>
<circle cx="278.28" cy="1534.59" r="5.0"/>
<circle cx="283.44" cy="1555.97" r="5.0"/>
<circle cx="282.7" cy="1562.11" r="5.0"/>
<circle cx="278.53" cy="1601.18" r="5.0"/>
<circle cx="280" cy="1607.08" r="5.0"/>
<circle cx="275.33" cy="1615.43" r="5.0"/>
<circle cx="281.72" cy="1646.39" r="5.0"/>
<circle cx="328.16" cy="1444.91" r="5.0"/>
<circle cx="333.07" cy="1481.28" r="5.0"/>
<circle cx="326.93" cy="1541.47" r="5.0"/>
<circle cx="334.3" cy="1540.25" r="5.0"/>
<circle cx="332.58" cy="1555.97" r="5.0"/>
<circle cx="336.76" cy="1562.11" r="5.0"/>
<circle cx="334.79" cy="1569.24" r="5.0"/>
<circle cx="333.81" cy="1655.23" r="5.0"/>
<circle cx="382.7" cy="1498.48" r="5.0"/>
<circle cx="388.6" cy="1515.68" r="5.0"/>
<circle cx="387.86" cy="1585.45" r="5.0"/>
<circle cx="378.53" cy="1591.11" r="5.0"/>
<circle cx="387.37" cy="1603.14" r="5.0"/>
<circle cx="431.84" cy="1451.06" r="5.0"/>
<circle cx="439.21" cy="1456.71" r="5.0"/>
<circle cx="438.72" cy="1466.54" r="5.0"/>
<circle cx="433.81" cy="1484.23" r="5.0"/>
<circle cx="440.2" cy="1485.45" r="5.0"/>
<circle cx="435.28" cy="1533.37" r="5.0"/>
<circle cx="437.74" cy="1544.42" r="5.0"/>
<circle cx="438.72" cy="1545.16" r="5.0"/>
<circle cx="439.46" cy="1651.79" r="5.0"/>
<circle cx="436.51" cy="1657.2" r="5.0"/>
<circle cx="484.18" cy="1464.57" r="5.0"/>
<circle cx="484.18" cy="1500.2" r="5.0"/>
<circle cx="484.67" cy="1567.76" r="5.0"/>
<circle cx="484.91" cy="1602.9" r="5.0"/>
<circle cx="488.85" cy="1614.94" r="5.0"/>
<circle cx="492.04" cy="1643.69" r="5.0"/>
<circle cx="539.21" cy="1461.62" r="5.0"/>
<circle cx="544.37" cy="1501.92" r="5.0"/>
<circle cx="540.69" cy="1509.29" r="5.0"/>
<circle cx="536.27" cy="1524.77" r="5.0"/>
<circle cx="542.41" cy="1526.49" r="5.0"/>
<circle cx="536.27" cy="1560.64" r="5.0"/>
<circle cx="535.04" cy="1591.11" r="5.0"/>
<circle cx="536.76" cy="1594.3" r="5.0"/>
<circle cx="538.48" cy="1602.16" r="5.0"/>
</g>
</g>
<g id="facet-2">
<rect x="584.95" y="1044.2" width="477.95" height="45.4" fill="#D9D9D9"/>
<rect x="585.85" y="1089.7" width="476.15" height="654.2" fill="#fff" stroke="#0a0a0a" stroke-width="1.8"/>
<path d="M584.65 1674.7H587.05M1060.8 1674.7H1063.2M584.65 1595.3H587.05M1060.8 1595.3H1063.2M584.65 1515.9H587.05M1060.8 1515.9H1063.2M584.65 1436.5H587.05M1060.8 1436.5H1063.2M584.65 1357.1H587.05M1060.8 1357.1H1063.2M584.65 1277.7H587.05M1060.8 1277.7H1063.2M584.65 1198.3H587.05M1060.8 1198.3H1063.2M584.65 1118.9H587.05M1060.8 1118.9H1063.2" stroke="#fff" stroke-width="1.4" fill="none"/>
<path d="M615.85 1088.5V1090.9M615.85 1742.7V1745.1M667.82 1088.5V1090.9M667.82 1742.7V1745.1M719.79 1088.5V1090.9M719.79 1742.7V1745.1M771.76 1088.5V1090.9M771.76 1742.7V1745.1M823.73 1088.5V1090.9M823.73 1742.7V1745.1M875.7 1088.5V1090.9M875.7 1742.7V1745.1M927.67 1088.5V1090.9M927.67 1742.7V1745.1M979.64 1088.5V1090.9M979.64 1742.7V1745.1M1031.61 1088.5V1090.9M1031.61 1742.7V1745.1M584.65 1714.4H587.05M1060.8 1714.4H1063.2M584.65 1635H587.05M1060.8 1635H1063.2M584.65 1555.6H587.05M1060.8 1555.6H1063.2M584.65 1476.2H587.05M1060.8 1476.2H1063.2M584.65 1396.8H587.05M1060.8 1396.8H1063.2M584.65 1317.4H587.05M1060.8 1317.4H1063.2M584.65 1238H587.05M1060.8 1238H1063.2M584.65 1158.6H587.05M1060.8 1158.6H1063.2" stroke="#fff" stroke-width="2.5" fill="none"/>
<text x="823.92" y="1075" font-size="23.05" fill="#1A1A1A" text-anchor="middle" >Global Motion</text>
<line x1="615.85" y1="1037" x2="615.85" y2="1044.2" stroke="#111" stroke-width="2.1" />
<text x="615.05" y="1031.7" font-size="22.7" fill="#4D4D4D" text-anchor="middle" >A1</text>
<line x1="667.82" y1="1037" x2="667.82" y2="1044.2" stroke="#111" stroke-width="2.1" />
<text x="667.02" y="1031.7" font-size="22.7" fill="#4D4D4D" text-anchor="middle" >A2</text>
<line x1="719.79" y1="1037" x2="719.79" y2="1044.2" stroke="#111" stroke-width="2.1" />
<text x="718.99" y="1031.7" font-size="22.7" fill="#4D4D4D" text-anchor="middle" >A3</text>
<line x1="771.76" y1="1037" x2="771.76" y2="1044.2" stroke="#111" stroke-width="2.1" />
<text x="770.96" y="1031.7" font-size="22.7" fill="#4D4D4D" text-anchor="middle" >A4</text>
<line x1="823.73" y1="1037" x2="823.73" y2="1044.2" stroke="#111" stroke-width="2.1" />
<text x="822.93" y="1031.7" font-size="22.7" fill="#4D4D4D" text-anchor="middle" >A5</text>
<line x1="875.7" y1="1037" x2="875.7" y2="1044.2" stroke="#111" stroke-width="2.1" />
<text x="874.9" y="1031.7" font-size="22.7" fill="#4D4D4D" text-anchor="middle" >A6</text>
<line x1="927.67" y1="1037" x2="927.67" y2="1044.2" stroke="#111" stroke-width="2.1" />
<text x="926.87" y="1031.7" font-size="22.7" fill="#4D4D4D" text-anchor="middle" >A7</text>
<line x1="979.64" y1="1037" x2="979.64" y2="1044.2" stroke="#111" stroke-width="2.1" />
<text x="978.84" y="1031.7" font-size="22.7" fill="#4D4D4D" text-anchor="middle" >A8</text>
<line x1="1031.61" y1="1037" x2="1031.61" y2="1044.2" stroke="#111" stroke-width="2.1" />
<text x="1030.81" y="1031.7" font-size="22.7" fill="#4D4D4D" text-anchor="middle" >A9</text>
<polyline points="615.85,1463.34 667.82,1422.53 719.79,1427.45 771.76,1498.91 823.73,1510.5 875.7,1449.12 927.67,1457.7 979.64,1545.6 1031.61,1582.99" fill="none" stroke="#EE5C42" stroke-width="5.5" stroke-linejoin="round"/>
<polyline points="615.85,1558.38 667.82,1498.19 719.79,1449.12 771.76,1432.37 823.73,1430.86 875.7,1425.23 927.67,1436.82 979.64,1501.93 1031.61,1562.11" fill="none" stroke="#4D4D4D" stroke-width="6.1" stroke-linejoin="round"/>
<circle cx="615.85" cy="1463.34" r="6.6" fill="#EE5C42"/>
<circle cx="667.82" cy="1422.53" r="6.6" fill="#EE5C42"/>
<circle cx="719.79" cy="1427.45" r="6.6" fill="#EE5C42"/>
<circle cx="771.76" cy="1498.91" r="6.6" fill="#EE5C42"/>
<circle cx="823.73" cy="1510.5" r="6.6" fill="#EE5C42"/>
<circle cx="875.7" cy="1449.12" r="6.6" fill="#EE5C42"/>
<circle cx="927.67" cy="1457.7" r="6.6" fill="#EE5C42"/>
<circle cx="979.64" cy="1545.6" r="6.6" fill="#EE5C42"/>
<circle cx="1031.61" cy="1582.99" r="6.6" fill="#EE5C42"/>
<circle cx="615.85" cy="1558.38" r="6.6" fill="#4D4D4D"/>
<circle cx="667.82" cy="1498.19" r="6.6" fill="#4D4D4D"/>
<circle cx="719.79" cy="1449.12" r="6.6" fill="#4D4D4D"/>
<circle cx="771.76" cy="1432.37" r="6.6" fill="#4D4D4D"/>
<circle cx="823.73" cy="1430.86" r="6.6" fill="#4D4D4D"/>
<circle cx="875.7" cy="1425.23" r="6.6" fill="#4D4D4D"/>
<circle cx="927.67" cy="1436.82" r="6.6" fill="#4D4D4D"/>
<circle cx="979.64" cy="1501.93" r="6.6" fill="#4D4D4D"/>
<circle cx="1031.61" cy="1562.11" r="6.6" fill="#4D4D4D"/>
<polygon points="615.85,1541.38 667.82,1481.19 719.79,1432.12 771.76,1415.37 823.73,1413.86 875.7,1408.23 927.67,1419.82 979.64,1484.93 1031.61,1545.11 1031.61,1579.11 979.64,1518.93 927.67,1453.82 875.7,1442.23 823.73,1447.86 771.76,1449.37 719.79,1466.12 667.82,1515.19 615.85,1575.38" fill="rgba(77,77,77,0.1)"/>
<polyline points="615.85,1541.38 667.82,1481.19 719.79,1432.12 771.76,1415.37 823.73,1413.86 875.7,1408.23 927.67,1419.82 979.64,1484.93 1031.61,1545.11" fill="none" stroke="#495052" stroke-width="2.2" stroke-linejoin="round"/>
<polyline points="615.85,1575.38 667.82,1515.19 719.79,1466.12 771.76,1449.37 823.73,1447.86 875.7,1442.23 927.67,1453.82 979.64,1518.93 1031.61,1579.11" fill="none" stroke="#495052" stroke-width="2.2" stroke-linejoin="round"/>
<polygon points="615.85,1548.35 667.82,1488.16 719.79,1439.09 771.76,1422.34 823.73,1420.83 875.7,1415.2 927.67,1426.79 979.64,1491.9 1031.61,1552.08 1031.61,1572.14 979.64,1511.96 927.67,1446.85 875.7,1435.26 823.73,1440.89 771.76,1442.4 719.79,1459.15 667.82,1508.22 615.85,1568.41" fill="rgba(77,77,77,0.2)"/>
<polyline points="615.85,1548.35 667.82,1488.16 719.79,1439.09 771.76,1422.34 823.73,1420.83 875.7,1415.2 927.67,1426.79 979.64,1491.9 1031.61,1552.08" fill="none" stroke="#495052" stroke-width="2.2" stroke-linejoin="round"/>
<polyline points="615.85,1568.41 667.82,1508.22 719.79,1459.15 771.76,1442.4 823.73,1440.89 875.7,1435.26 927.67,1446.85 979.64,1511.96 1031.61,1572.14" fill="none" stroke="#495052" stroke-width="2.2" stroke-linejoin="round"/>
<path d="M615.85 1366.23V1559.57M608.25 1366.23H623.45M608.25 1559.57H623.45M667.82 1364.56V1480.96M660.22 1364.56H675.42M660.22 1480.96H675.42M719.79 1349.64V1504.63M712.19 1349.64H727.39M712.19 1504.63H727.39M771.76 1440.47V1558.7M764.16 1440.47H779.36M764.16 1558.7H779.36M823.73 1456.43V1563.54M816.13 1456.43H831.33M816.13 1563.54H831.33M875.7 1373.22V1524.71M868.1 1373.22H883.3M868.1 1524.71H883.3M927.67 1382.27V1534.56M920.07 1382.27H935.27M920.07 1534.56H935.27M979.64 1522.81V1568.54M972.04 1522.81H987.24M972.04 1568.54H987.24M1031.61 1546.63V1619.12M1024.01 1546.63H1039.21M1024.01 1619.12H1039.21" fill="none" stroke="#EE5C42" stroke-width="4.5"/>
<line x1="823.73" y1="1089.7" x2="823.73" y2="1743.9" stroke="#0000FF" stroke-width="2.4" stroke-dasharray="10.2 7.4 2.6 7.4"/>
<g fill="rgba(238,92,66,0.37)" stroke="rgba(238,92,66,0.42)" stroke-width="1.2">
<circle cx="616.93" cy="1184.91" r="5.0"/>
<circle cx="615.95" cy="1248.55" r="5.0"/>
<circle cx="620.86" cy="1352.24" r="5.0"/>
<circle cx="614.72" cy="1428.16" r="5.0"/>
<circle cx="664.1" cy="1241.43" r="5.0"/>
<circle cx="664.59" cy="1269.68" r="5.0"/>
<circle cx="670.74" cy="1272.63" r="5.0"/>
<circle cx="664.1" cy="1374.1" r="5.0"/>
<circle cx="673.19" cy="1385.16" r="5.0"/>
<circle cx="666.31" cy="1387.86" r="5.0"/>
<circle cx="671.97" cy="1388.85" r="5.0"/>
<circle cx="664.59" cy="1447.81" r="5.0"/>
<circle cx="722.09" cy="1176.07" r="5.0"/>
<circle cx="723.56" cy="1186.88" r="5.0"/>
<circle cx="723.56" cy="1306.78" r="5.0"/>
<circle cx="721.11" cy="1310.47" r="5.0"/>
<circle cx="719.39" cy="1324.96" r="5.0"/>
<circle cx="715.45" cy="1409.98" r="5.0"/>
<circle cx="715.45" cy="1435.53" r="5.0"/>
<circle cx="768.77" cy="1323.98" r="5.0"/>
<circle cx="772.46" cy="1346.83" r="5.0"/>
<circle cx="769.75" cy="1356.9" r="5.0"/>
<circle cx="768.53" cy="1380.49" r="5.0"/>
<circle cx="820.61" cy="1300.88" r="5.0"/>
<circle cx="820.12" cy="1362.06" r="5.0"/>
<circle cx="827.74" cy="1406.54" r="5.0"/>
<circle cx="879.83" cy="1241.92" r="5.0"/>
<circle cx="872.21" cy="1261.57" r="5.0"/>
<circle cx="878.11" cy="1270.42" r="5.0"/>
<circle cx="875.65" cy="1315.38" r="5.0"/>
<circle cx="876.39" cy="1352.97" r="5.0"/>
<circle cx="878.6" cy="1362.56" r="5.0"/>
<circle cx="870.98" cy="1440.69" r="5.0"/>
<circle cx="926.02" cy="1197.2" r="5.0"/>
<circle cx="925.53" cy="1250.76" r="5.0"/>
<circle cx="927" cy="1307.76" r="5.0"/>
<circle cx="928.97" cy="1328.16" r="5.0"/>
<circle cx="923.81" cy="1389.09" r="5.0"/>
<circle cx="926.02" cy="1412.68" r="5.0"/>
<circle cx="1028.48" cy="1441.67" r="5.0"/>
<circle cx="616.68" cy="1464.94" r="5.0"/>
<circle cx="619.88" cy="1531.77" r="5.0"/>
<circle cx="611.28" cy="1573.05" r="5.0"/>
<circle cx="619.14" cy="1581.15" r="5.0"/>
<circle cx="616.68" cy="1612.36" r="5.0"/>
<circle cx="613.98" cy="1638.89" r="5.0"/>
<circle cx="611.52" cy="1670.34" r="5.0"/>
<circle cx="667.54" cy="1465.43" r="5.0"/>
<circle cx="671.23" cy="1518.99" r="5.0"/>
<circle cx="667.05" cy="1528.33" r="5.0"/>
<circle cx="671.47" cy="1563.22" r="5.0"/>
<circle cx="667.54" cy="1590.25" r="5.0"/>
<circle cx="719.88" cy="1485.33" r="5.0"/>
<circle cx="716.44" cy="1529.31" r="5.0"/>
<circle cx="716.68" cy="1563.22" r="5.0"/>
<circle cx="718.65" cy="1566.41" r="5.0"/>
<circle cx="720.61" cy="1614.82" r="5.0"/>
<circle cx="719.39" cy="1621.7" r="5.0"/>
<circle cx="773.44" cy="1471.08" r="5.0"/>
<circle cx="773.93" cy="1518.26" r="5.0"/>
<circle cx="767.79" cy="1533" r="5.0"/>
<circle cx="772.95" cy="1565.92" r="5.0"/>
<circle cx="767.3" cy="1597.62" r="5.0"/>
<circle cx="774.18" cy="1638.16" r="5.0"/>
<circle cx="766.56" cy="1641.11" r="5.0"/>
<circle cx="768.53" cy="1646.02" r="5.0"/>
<circle cx="818.16" cy="1476" r="5.0"/>
<circle cx="823.56" cy="1476" r="5.0"/>
<circle cx="826.02" cy="1489.02" r="5.0"/>
<circle cx="821.11" cy="1501.06" r="5.0"/>
<circle cx="818.65" cy="1514.57" r="5.0"/>
<circle cx="818.65" cy="1565.92" r="5.0"/>
<circle cx="822.33" cy="1575.01" r="5.0"/>
<circle cx="823.07" cy="1588.77" r="5.0"/>
<circle cx="819.39" cy="1611.13" r="5.0"/>
<circle cx="818.65" cy="1616.54" r="5.0"/>
<circle cx="820.37" cy="1656.34" r="5.0"/>
<circle cx="872.7" cy="1546.02" r="5.0"/>
<circle cx="876.39" cy="1551.67" r="5.0"/>
<circle cx="873.93" cy="1564.94" r="5.0"/>
<circle cx="870.74" cy="1566.9" r="5.0"/>
<circle cx="872.21" cy="1584.59" r="5.0"/>
<circle cx="874.91" cy="1673.54" r="5.0"/>
<circle cx="922.33" cy="1482.38" r="5.0"/>
<circle cx="931.92" cy="1484.84" r="5.0"/>
<circle cx="924.79" cy="1552.41" r="5.0"/>
<circle cx="932.65" cy="1572.8" r="5.0"/>
<circle cx="927.74" cy="1588.53" r="5.0"/>
<circle cx="926.02" cy="1603.51" r="5.0"/>
<circle cx="925.28" cy="1619.73" r="5.0"/>
<circle cx="925.53" cy="1628.33" r="5.0"/>
<circle cx="975.41" cy="1469.85" r="5.0"/>
<circle cx="975.41" cy="1475.26" r="5.0"/>
<circle cx="977.13" cy="1519.48" r="5.0"/>
<circle cx="982.78" cy="1534.96" r="5.0"/>
<circle cx="979.09" cy="1554.13" r="5.0"/>
<circle cx="981.55" cy="1559.04" r="5.0"/>
<circle cx="978.85" cy="1570.59" r="5.0"/>
<circle cx="981.79" cy="1590.25" r="5.0"/>
<circle cx="978.35" cy="1592.95" r="5.0"/>
<circle cx="984.5" cy="1600.81" r="5.0"/>
<circle cx="983.02" cy="1604.74" r="5.0"/>
<circle cx="1027.49" cy="1488.53" r="5.0"/>
<circle cx="1031.43" cy="1516.04" r="5.0"/>
<circle cx="1031.67" cy="1535.21" r="5.0"/>
<circle cx="1036.09" cy="1570.84" r="5.0"/>
<circle cx="1027.49" cy="1591.47" r="5.0"/>
<circle cx="1032.41" cy="1599.09" r="5.0"/>
<circle cx="1035.85" cy="1607.2" r="5.0"/>
<circle cx="1030.69" cy="1609.16" r="5.0"/>
<circle cx="1032.9" cy="1629.56" r="5.0"/>
<circle cx="1026.51" cy="1641.35" r="5.0"/>
<circle cx="1035.85" cy="1674.28" r="5.0"/>
<circle cx="1029.95" cy="1684.59" r="5.0"/>
</g>
</g>
<g id="facet-3">
<rect x="1076.95" y="1044.2" width="477.95" height="45.4" fill="#D9D9D9"/>
<rect x="1077.85" y="1089.7" width="476.15" height="654.2" fill="#fff" stroke="#0a0a0a" stroke-width="1.8"/>
<path d="M1076.65 1674.7H1079.05M1552.8 1674.7H1555.2M1076.65 1595.3H1079.05M1552.8 1595.3H1555.2M1076.65 1515.9H1079.05M1552.8 1515.9H1555.2M1076.65 1436.5H1079.05M1552.8 1436.5H1555.2M1076.65 1357.1H1079.05M1552.8 1357.1H1555.2M1076.65 1277.7H1079.05M1552.8 1277.7H1555.2M1076.65 1198.3H1079.05M1552.8 1198.3H1555.2M1076.65 1118.9H1079.05M1552.8 1118.9H1555.2" stroke="#fff" stroke-width="1.4" fill="none"/>
<path d="M1107.85 1088.5V1090.9M1107.85 1742.7V1745.1M1159.82 1088.5V1090.9M1159.82 1742.7V1745.1M1211.79 1088.5V1090.9M1211.79 1742.7V1745.1M1263.76 1088.5V1090.9M1263.76 1742.7V1745.1M1315.73 1088.5V1090.9M1315.73 1742.7V1745.1M1367.7 1088.5V1090.9M1367.7 1742.7V1745.1M1419.67 1088.5V1090.9M1419.67 1742.7V1745.1M1471.64 1088.5V1090.9M1471.64 1742.7V1745.1M1523.61 1088.5V1090.9M1523.61 1742.7V1745.1M1076.65 1714.4H1079.05M1552.8 1714.4H1555.2M1076.65 1635H1079.05M1552.8 1635H1555.2M1076.65 1555.6H1079.05M1552.8 1555.6H1555.2M1076.65 1476.2H1079.05M1552.8 1476.2H1555.2M1076.65 1396.8H1079.05M1552.8 1396.8H1555.2M1076.65 1317.4H1079.05M1552.8 1317.4H1555.2M1076.65 1238H1079.05M1552.8 1238H1555.2M1076.65 1158.6H1079.05M1552.8 1158.6H1555.2" stroke="#fff" stroke-width="2.5" fill="none"/>
<text x="1315.92" y="1075" font-size="23.05" fill="#1A1A1A" text-anchor="middle" >Local Form</text>
<line x1="1107.85" y1="1037" x2="1107.85" y2="1044.2" stroke="#111" stroke-width="2.1" />
<text x="1107.05" y="1031.7" font-size="22.7" fill="#4D4D4D" text-anchor="middle" >A1</text>
<line x1="1159.82" y1="1037" x2="1159.82" y2="1044.2" stroke="#111" stroke-width="2.1" />
<text x="1159.02" y="1031.7" font-size="22.7" fill="#4D4D4D" text-anchor="middle" >A2</text>
<line x1="1211.79" y1="1037" x2="1211.79" y2="1044.2" stroke="#111" stroke-width="2.1" />
<text x="1210.99" y="1031.7" font-size="22.7" fill="#4D4D4D" text-anchor="middle" >A3</text>
<line x1="1263.76" y1="1037" x2="1263.76" y2="1044.2" stroke="#111" stroke-width="2.1" />
<text x="1262.96" y="1031.7" font-size="22.7" fill="#4D4D4D" text-anchor="middle" >A4</text>
<line x1="1315.73" y1="1037" x2="1315.73" y2="1044.2" stroke="#111" stroke-width="2.1" />
<text x="1314.93" y="1031.7" font-size="22.7" fill="#4D4D4D" text-anchor="middle" >A5</text>
<line x1="1367.7" y1="1037" x2="1367.7" y2="1044.2" stroke="#111" stroke-width="2.1" />
<text x="1366.9" y="1031.7" font-size="22.7" fill="#4D4D4D" text-anchor="middle" >A6</text>
<line x1="1419.67" y1="1037" x2="1419.67" y2="1044.2" stroke="#111" stroke-width="2.1" />
<text x="1418.87" y="1031.7" font-size="22.7" fill="#4D4D4D" text-anchor="middle" >A7</text>
<line x1="1471.64" y1="1037" x2="1471.64" y2="1044.2" stroke="#111" stroke-width="2.1" />
<text x="1470.84" y="1031.7" font-size="22.7" fill="#4D4D4D" text-anchor="middle" >A8</text>
<line x1="1523.61" y1="1037" x2="1523.61" y2="1044.2" stroke="#111" stroke-width="2.1" />
<text x="1522.81" y="1031.7" font-size="22.7" fill="#4D4D4D" text-anchor="middle" >A9</text>
<polyline points="1107.85,1639.13 1159.82,1603.4 1211.79,1482.23 1263.76,1312.32 1315.73,1283.5 1367.7,1395.05 1419.67,1528.92 1471.64,1592.84 1523.61,1625.95" fill="none" stroke="#EE5C42" stroke-width="5.5" stroke-linejoin="round"/>
<polyline points="1107.85,1638.26 1159.82,1606.34 1211.79,1505.58 1263.76,1361.55 1315.73,1289.13 1367.7,1368.77 1419.67,1506.37 1471.64,1594.03 1523.61,1618.17" fill="none" stroke="#4D4D4D" stroke-width="6.1" stroke-linejoin="round"/>
<circle cx="1107.85" cy="1639.13" r="6.6" fill="#EE5C42"/>
<circle cx="1159.82" cy="1603.4" r="6.6" fill="#EE5C42"/>
<circle cx="1211.79" cy="1482.23" r="6.6" fill="#EE5C42"/>
<circle cx="1263.76" cy="1312.32" r="6.6" fill="#EE5C42"/>
<circle cx="1315.73" cy="1283.5" r="6.6" fill="#EE5C42"/>
<circle cx="1367.7" cy="1395.05" r="6.6" fill="#EE5C42"/>
<circle cx="1419.67" cy="1528.92" r="6.6" fill="#EE5C42"/>
<circle cx="1471.64" cy="1592.84" r="6.6" fill="#EE5C42"/>
<circle cx="1523.61" cy="1625.95" r="6.6" fill="#EE5C42"/>
<circle cx="1107.85" cy="1638.26" r="6.6" fill="#4D4D4D"/>
<circle cx="1159.82" cy="1606.34" r="6.6" fill="#4D4D4D"/>
<circle cx="1211.79" cy="1505.58" r="6.6" fill="#4D4D4D"/>
<circle cx="1263.76" cy="1361.55" r="6.6" fill="#4D4D4D"/>
<circle cx="1315.73" cy="1289.13" r="6.6" fill="#4D4D4D"/>
<circle cx="1367.7" cy="1368.77" r="6.6" fill="#4D4D4D"/>
<circle cx="1419.67" cy="1506.37" r="6.6" fill="#4D4D4D"/>
<circle cx="1471.64" cy="1594.03" r="6.6" fill="#4D4D4D"/>
<circle cx="1523.61" cy="1618.17" r="6.6" fill="#4D4D4D"/>
<polygon points="1107.85,1629.36 1159.82,1597.44 1211.79,1487.58 1263.76,1344.55 1315.73,1275.13 1367.7,1351.77 1419.67,1488.37 1471.64,1582.53 1523.61,1607.27 1523.61,1629.07 1471.64,1605.53 1419.67,1524.37 1367.7,1385.77 1315.73,1303.13 1263.76,1378.55 1211.79,1523.58 1159.82,1615.24 1107.85,1647.16" fill="rgba(77,77,77,0.1)"/>
<polyline points="1107.85,1629.36 1159.82,1597.44 1211.79,1487.58 1263.76,1344.55 1315.73,1275.13 1367.7,1351.77 1419.67,1488.37 1471.64,1582.53 1523.61,1607.27" fill="none" stroke="#495052" stroke-width="2.2" stroke-linejoin="round"/>
<polyline points="1107.85,1647.16 1159.82,1615.24 1211.79,1523.58 1263.76,1378.55 1315.73,1303.13 1367.7,1385.77 1419.67,1524.37 1471.64,1605.53 1523.61,1629.07" fill="none" stroke="#495052" stroke-width="2.2" stroke-linejoin="round"/>
<polygon points="1107.85,1633 1159.82,1601.09 1211.79,1494.96 1263.76,1351.52 1315.73,1280.87 1367.7,1358.74 1419.67,1495.75 1471.64,1587.24 1523.61,1611.74 1523.61,1624.6 1471.64,1600.81 1419.67,1516.99 1367.7,1378.8 1315.73,1297.39 1263.76,1371.58 1211.79,1516.2 1159.82,1611.59 1107.85,1643.51" fill="rgba(77,77,77,0.2)"/>
<polyline points="1107.85,1633 1159.82,1601.09 1211.79,1494.96 1263.76,1351.52 1315.73,1280.87 1367.7,1358.74 1419.67,1495.75 1471.64,1587.24 1523.61,1611.74" fill="none" stroke="#495052" stroke-width="2.2" stroke-linejoin="round"/>
<polyline points="1107.85,1643.51 1159.82,1611.59 1211.79,1516.2 1263.76,1371.58 1315.73,1297.39 1367.7,1378.8 1419.67,1516.99 1471.64,1600.81 1523.61,1624.6" fill="none" stroke="#495052" stroke-width="2.2" stroke-linejoin="round"/>
<path d="M1107.85 1607.77V1669.46M1100.25 1607.77H1115.45M1100.25 1669.46H1115.45M1159.82 1572.67V1634.13M1152.22 1572.67H1167.42M1152.22 1634.13H1167.42M1211.79 1445.39V1517.57M1204.19 1445.39H1219.39M1204.19 1517.57H1219.39M1263.76 1263.41V1360.91M1256.16 1263.41H1271.36M1256.16 1360.91H1271.36M1315.73 1249.59V1319.7M1308.13 1249.59H1323.33M1308.13 1319.7H1323.33M1367.7 1336.46V1455.95M1360.1 1336.46H1375.3M1360.1 1455.95H1375.3M1419.67 1474.14V1582.99M1412.07 1474.14H1427.27M1412.07 1582.99H1427.27M1471.64 1553.77V1632.14M1464.04 1553.77H1479.24M1464.04 1632.14H1479.24M1523.61 1594.03V1656.2M1516.01 1594.03H1531.21M1516.01 1656.2H1531.21" fill="none" stroke="#EE5C42" stroke-width="4.5"/>
<line x1="1315.73" y1="1089.7" x2="1315.73" y2="1743.9" stroke="#0000FF" stroke-width="2.4" stroke-dasharray="10.2 7.4 2.6 7.4"/>
<g fill="rgba(238,92,66,0.37)" stroke="rgba(238,92,66,0.42)" stroke-width="1.2">
<circle cx="1264.21" cy="1152.73" r="5.0"/>
<circle cx="1260.77" cy="1225.21" r="5.0"/>
<circle cx="1260.77" cy="1252.48" r="5.0"/>
<circle cx="1266.67" cy="1255.43" r="5.0"/>
<circle cx="1267.9" cy="1255.43" r="5.0"/>
<circle cx="1260.03" cy="1281.97" r="5.0"/>
<circle cx="1267.41" cy="1281.97" r="5.0"/>
<circle cx="1260.03" cy="1357.15" r="5.0"/>
<circle cx="1321.21" cy="1219.8" r="5.0"/>
<circle cx="1313.11" cy="1225.45" r="5.0"/>
<circle cx="1312.12" cy="1231.35" r="5.0"/>
<circle cx="1316.55" cy="1230.37" r="5.0"/>
<circle cx="1310.89" cy="1243.14" r="5.0"/>
<circle cx="1319.99" cy="1247.57" r="5.0"/>
<circle cx="1321.21" cy="1257.89" r="5.0"/>
<circle cx="1312.61" cy="1268.7" r="5.0"/>
<circle cx="1311.39" cy="1279.75" r="5.0"/>
<circle cx="1321.21" cy="1283.93" r="5.0"/>
<circle cx="1312.61" cy="1317.1" r="5.0"/>
<circle cx="1317.04" cy="1366.98" r="5.0"/>
<circle cx="1313.11" cy="1373.86" r="5.0"/>
<circle cx="1371.09" cy="1262.31" r="5.0"/>
<circle cx="1367.9" cy="1268.45" r="5.0"/>
<circle cx="1371.83" cy="1270.91" r="5.0"/>
<circle cx="1371.34" cy="1281.97" r="5.0"/>
<circle cx="1363.47" cy="1302.85" r="5.0"/>
<circle cx="1372.07" cy="1361.82" r="5.0"/>
<circle cx="1418.27" cy="1299.16" r="5.0"/>
<circle cx="1419.74" cy="1391.79" r="5.0"/>
<circle cx="1103.28" cy="1555.11" r="5.0"/>
<circle cx="1106.23" cy="1557.57" r="5.0"/>
<circle cx="1107.7" cy="1566.41" r="5.0"/>
<circle cx="1108.19" cy="1567.4" r="5.0"/>
<circle cx="1107.45" cy="1588.77" r="5.0"/>
<circle cx="1106.23" cy="1640.61" r="5.0"/>
<circle cx="1105.73" cy="1647.99" r="5.0"/>
<circle cx="1112.61" cy="1654.86" r="5.0"/>
<circle cx="1111.14" cy="1668.38" r="5.0"/>
<circle cx="1102.79" cy="1690.98" r="5.0"/>
<circle cx="1103.28" cy="1697.62" r="5.0"/>
<circle cx="1108.68" cy="1697.62" r="5.0"/>
<circle cx="1110.89" cy="1701.06" r="5.0"/>
<circle cx="1111.39" cy="1708.18" r="5.0"/>
<circle cx="1164.46" cy="1463.46" r="5.0"/>
<circle cx="1161.26" cy="1546.27" r="5.0"/>
<circle cx="1161.75" cy="1550.2" r="5.0"/>
<circle cx="1156.59" cy="1570.59" r="5.0"/>
<circle cx="1163.23" cy="1584.1" r="5.0"/>
<circle cx="1155.37" cy="1620.96" r="5.0"/>
<circle cx="1165.69" cy="1620.96" r="5.0"/>
<circle cx="1165.19" cy="1633.73" r="5.0"/>
<circle cx="1161.75" cy="1649.71" r="5.0"/>
<circle cx="1156.84" cy="1654.37" r="5.0"/>
<circle cx="1164.46" cy="1669.61" r="5.0"/>
<circle cx="1160.77" cy="1688.53" r="5.0"/>
<circle cx="1206.96" cy="1401.55" r="5.0"/>
<circle cx="1211.88" cy="1399.58" r="5.0"/>
<circle cx="1217.28" cy="1402.04" r="5.0"/>
<circle cx="1210.4" cy="1419.48" r="5.0"/>
<circle cx="1213.84" cy="1445.28" r="5.0"/>
<circle cx="1207.95" cy="1453.88" r="5.0"/>
<circle cx="1206.96" cy="1469.12" r="5.0"/>
<circle cx="1216.79" cy="1503.02" r="5.0"/>
<circle cx="1215.07" cy="1566.41" r="5.0"/>
<circle cx="1214.33" cy="1576.24" r="5.0"/>
<circle cx="1207.7" cy="1620.47" r="5.0"/>
<circle cx="1262" cy="1423.91" r="5.0"/>
<circle cx="1260.77" cy="1436.68" r="5.0"/>
<circle cx="1267.9" cy="1493.19" r="5.0"/>
<circle cx="1311.88" cy="1439.14" r="5.0"/>
<circle cx="1362.25" cy="1396.88" r="5.0"/>
<circle cx="1366.67" cy="1410.88" r="5.0"/>
<circle cx="1362.98" cy="1421.94" r="5.0"/>
<circle cx="1364.7" cy="1466.41" r="5.0"/>
<circle cx="1372.07" cy="1535.21" r="5.0"/>
<circle cx="1368.88" cy="1578.94" r="5.0"/>
<circle cx="1365.44" cy="1592.21" r="5.0"/>
<circle cx="1419.74" cy="1392.46" r="5.0"/>
<circle cx="1419" cy="1448.97" r="5.0"/>
<circle cx="1421.95" cy="1481.4" r="5.0"/>
<circle cx="1421.95" cy="1517.76" r="5.0"/>
<circle cx="1421.95" cy="1539.88" r="5.0"/>
<circle cx="1423.67" cy="1561.99" r="5.0"/>
<circle cx="1414.83" cy="1586.07" r="5.0"/>
<circle cx="1419.74" cy="1601.06" r="5.0"/>
<circle cx="1419.25" cy="1619.24" r="5.0"/>
<circle cx="1423.67" cy="1649.21" r="5.0"/>
<circle cx="1416.3" cy="1687.54" r="5.0"/>
<circle cx="1470.85" cy="1429.07" r="5.0"/>
<circle cx="1467.41" cy="1471.57" r="5.0"/>
<circle cx="1470.35" cy="1549.21" r="5.0"/>
<circle cx="1474.04" cy="1561.99" r="5.0"/>
<circle cx="1476.5" cy="1572.8" r="5.0"/>
<circle cx="1476.74" cy="1585.33" r="5.0"/>
<circle cx="1468.63" cy="1606.22" r="5.0"/>
<circle cx="1468.63" cy="1624.64" r="5.0"/>
<circle cx="1476" cy="1635.7" r="5.0"/>
<circle cx="1468.14" cy="1638.16" r="5.0"/>
<circle cx="1470.85" cy="1663.71" r="5.0"/>
<circle cx="1472.81" cy="1680.91" r="5.0"/>
<circle cx="1468.63" cy="1690.25" r="5.0"/>
<circle cx="1525.88" cy="1497.62" r="5.0"/>
<circle cx="1519.49" cy="1549.21" r="5.0"/>
<circle cx="1519" cy="1581.65" r="5.0"/>
<circle cx="1522.69" cy="1580.42" r="5.0"/>
<circle cx="1528.83" cy="1582.87" r="5.0"/>
<circle cx="1518.51" cy="1640.61" r="5.0"/>
<circle cx="1523.43" cy="1636.93" r="5.0"/>
<circle cx="1520.97" cy="1654.13" r="5.0"/>
<circle cx="1524.16" cy="1663.22" r="5.0"/>
<circle cx="1521.95" cy="1677.22" r="5.0"/>
<circle cx="1520.72" cy="1685.33" r="5.0"/>
<circle cx="1528.83" cy="1692.46" r="5.0"/>
<circle cx="1520.23" cy="1694.18" r="5.0"/>
</g>
</g>
<g id="facet-4">
<rect x="1568.95" y="1044.2" width="477.95" height="45.4" fill="#D9D9D9"/>
<rect x="1569.85" y="1089.7" width="476.15" height="654.2" fill="#fff" stroke="#0a0a0a" stroke-width="1.8"/>
<path d="M1568.65 1674.7H1571.05M2044.8 1674.7H2047.2M1568.65 1595.3H1571.05M2044.8 1595.3H2047.2M1568.65 1515.9H1571.05M2044.8 1515.9H2047.2M1568.65 1436.5H1571.05M2044.8 1436.5H2047.2M1568.65 1357.1H1571.05M2044.8 1357.1H2047.2M1568.65 1277.7H1571.05M2044.8 1277.7H2047.2M1568.65 1198.3H1571.05M2044.8 1198.3H2047.2M1568.65 1118.9H1571.05M2044.8 1118.9H2047.2" stroke="#fff" stroke-width="1.4" fill="none"/>
<path d="M1599.85 1088.5V1090.9M1599.85 1742.7V1745.1M1651.82 1088.5V1090.9M1651.82 1742.7V1745.1M1703.79 1088.5V1090.9M1703.79 1742.7V1745.1M1755.76 1088.5V1090.9M1755.76 1742.7V1745.1M1807.73 1088.5V1090.9M1807.73 1742.7V1745.1M1859.7 1088.5V1090.9M1859.7 1742.7V1745.1M1911.67 1088.5V1090.9M1911.67 1742.7V1745.1M1963.64 1088.5V1090.9M1963.64 1742.7V1745.1M2015.61 1088.5V1090.9M2015.61 1742.7V1745.1M1568.65 1714.4H1571.05M2044.8 1714.4H2047.2M1568.65 1635H1571.05M2044.8 1635H2047.2M1568.65 1555.6H1571.05M2044.8 1555.6H2047.2M1568.65 1476.2H1571.05M2044.8 1476.2H2047.2M1568.65 1396.8H1571.05M2044.8 1396.8H2047.2M1568.65 1317.4H1571.05M2044.8 1317.4H2047.2M1568.65 1238H1571.05M2044.8 1238H2047.2M1568.65 1158.6H1571.05M2044.8 1158.6H2047.2" stroke="#fff" stroke-width="2.5" fill="none"/>
<text x="1807.92" y="1075" font-size="23.05" fill="#1A1A1A" text-anchor="middle" >Local Motion</text>
<line x1="1599.85" y1="1037" x2="1599.85" y2="1044.2" stroke="#111" stroke-width="2.1" />
<text x="1599.05" y="1031.7" font-size="22.7" fill="#4D4D4D" text-anchor="middle" >A1</text>
<line x1="1651.82" y1="1037" x2="1651.82" y2="1044.2" stroke="#111" stroke-width="2.1" />
<text x="1651.02" y="1031.7" font-size="22.7" fill="#4D4D4D" text-anchor="middle" >A2</text>
<line x1="1703.79" y1="1037" x2="1703.79" y2="1044.2" stroke="#111" stroke-width="2.1" />
<text x="1702.99" y="1031.7" font-size="22.7" fill="#4D4D4D" text-anchor="middle" >A3</text>
<line x1="1755.76" y1="1037" x2="1755.76" y2="1044.2" stroke="#111" stroke-width="2.1" />
<text x="1754.96" y="1031.7" font-size="22.7" fill="#4D4D4D" text-anchor="middle" >A4</text>
<line x1="1807.73" y1="1037" x2="1807.73" y2="1044.2" stroke="#111" stroke-width="2.1" />
<text x="1806.93" y="1031.7" font-size="22.7" fill="#4D4D4D" text-anchor="middle" >A5</text>
<line x1="1859.7" y1="1037" x2="1859.7" y2="1044.2" stroke="#111" stroke-width="2.1" />
<text x="1858.9" y="1031.7" font-size="22.7" fill="#4D4D4D" text-anchor="middle" >A6</text>
<line x1="1911.67" y1="1037" x2="1911.67" y2="1044.2" stroke="#111" stroke-width="2.1" />
<text x="1910.87" y="1031.7" font-size="22.7" fill="#4D4D4D" text-anchor="middle" >A7</text>
<line x1="1963.64" y1="1037" x2="1963.64" y2="1044.2" stroke="#111" stroke-width="2.1" />
<text x="1962.84" y="1031.7" font-size="22.7" fill="#4D4D4D" text-anchor="middle" >A8</text>
<line x1="2015.61" y1="1037" x2="2015.61" y2="1044.2" stroke="#111" stroke-width="2.1" />
<text x="2014.81" y="1031.7" font-size="22.7" fill="#4D4D4D" text-anchor="middle" >A9</text>
<polyline points="1599.85,1628.89 1651.82,1613.72 1703.79,1511.69 1755.76,1317.88 1807.73,1256.98 1859.7,1436.74 1911.67,1563.3 1963.64,1590.06 2015.61,1613.17" fill="none" stroke="#EE5C42" stroke-width="5.5" stroke-linejoin="round"/>
<polyline points="1599.85,1603.88 1651.82,1587.04 1703.79,1525.43 1755.76,1388.86 1807.73,1288.82 1859.7,1396.8 1911.67,1542.42 1963.64,1585.38 2015.61,1594.03" fill="none" stroke="#4D4D4D" stroke-width="6.1" stroke-linejoin="round"/>
<circle cx="1599.85" cy="1628.89" r="6.6" fill="#EE5C42"/>
<circle cx="1651.82" cy="1613.72" r="6.6" fill="#EE5C42"/>
<circle cx="1703.79" cy="1511.69" r="6.6" fill="#EE5C42"/>
<circle cx="1755.76" cy="1317.88" r="6.6" fill="#EE5C42"/>
<circle cx="1807.73" cy="1256.98" r="6.6" fill="#EE5C42"/>
<circle cx="1859.7" cy="1436.74" r="6.6" fill="#EE5C42"/>
<circle cx="1911.67" cy="1563.3" r="6.6" fill="#EE5C42"/>
<circle cx="1963.64" cy="1590.06" r="6.6" fill="#EE5C42"/>
<circle cx="2015.61" cy="1613.17" r="6.6" fill="#EE5C42"/>
<circle cx="1599.85" cy="1603.88" r="6.6" fill="#4D4D4D"/>
<circle cx="1651.82" cy="1587.04" r="6.6" fill="#4D4D4D"/>
<circle cx="1703.79" cy="1525.43" r="6.6" fill="#4D4D4D"/>
<circle cx="1755.76" cy="1388.86" r="6.6" fill="#4D4D4D"/>
<circle cx="1807.73" cy="1288.82" r="6.6" fill="#4D4D4D"/>
<circle cx="1859.7" cy="1396.8" r="6.6" fill="#4D4D4D"/>
<circle cx="1911.67" cy="1542.42" r="6.6" fill="#4D4D4D"/>
<circle cx="1963.64" cy="1585.38" r="6.6" fill="#4D4D4D"/>
<circle cx="2015.61" cy="1594.03" r="6.6" fill="#4D4D4D"/>
<polygon points="1599.85,1589.08 1651.82,1571.54 1703.79,1509.43 1755.76,1371.36 1807.73,1270.82 1859.7,1379.3 1911.67,1525.92 1963.64,1568.88 2015.61,1579.03 2015.61,1609.03 1963.64,1601.88 1911.67,1558.92 1859.7,1414.3 1807.73,1306.82 1755.76,1406.36 1703.79,1541.43 1651.82,1602.54 1599.85,1618.68" fill="rgba(77,77,77,0.1)"/>
<polyline points="1599.85,1589.08 1651.82,1571.54 1703.79,1509.43 1755.76,1371.36 1807.73,1270.82 1859.7,1379.3 1911.67,1525.92 1963.64,1568.88 2015.61,1579.03" fill="none" stroke="#495052" stroke-width="2.2" stroke-linejoin="round"/>
<polyline points="1599.85,1618.68 1651.82,1602.54 1703.79,1541.43 1755.76,1406.36 1807.73,1306.82 1859.7,1414.3 1911.67,1558.92 1963.64,1601.88 2015.61,1609.03" fill="none" stroke="#495052" stroke-width="2.2" stroke-linejoin="round"/>
<polygon points="1599.85,1595.14 1651.82,1577.9 1703.79,1515.99 1755.76,1378.54 1807.73,1278.2 1859.7,1386.48 1911.67,1532.68 1963.64,1575.64 2015.61,1585.18 2015.61,1602.88 1963.64,1595.11 1911.67,1552.15 1859.7,1407.13 1807.73,1299.44 1755.76,1399.19 1703.79,1534.87 1651.82,1596.19 1599.85,1612.61" fill="rgba(77,77,77,0.2)"/>
<polyline points="1599.85,1595.14 1651.82,1577.9 1703.79,1515.99 1755.76,1378.54 1807.73,1278.2 1859.7,1386.48 1911.67,1532.68 1963.64,1575.64 2015.61,1585.18" fill="none" stroke="#495052" stroke-width="2.2" stroke-linejoin="round"/>
<polyline points="1599.85,1612.61 1651.82,1596.19 1703.79,1534.87 1755.76,1399.19 1807.73,1299.44 1859.7,1407.13 1911.67,1552.15 1963.64,1595.11 2015.61,1602.88" fill="none" stroke="#495052" stroke-width="2.2" stroke-linejoin="round"/>
<path d="M1599.85 1586.65V1671.92M1592.25 1586.65H1607.45M1592.25 1671.92H1607.45M1651.82 1572.67V1654.21M1644.22 1572.67H1659.42M1644.22 1654.21H1659.42M1703.79 1462.54V1562.11M1696.19 1462.54H1711.39M1696.19 1562.11H1711.39M1755.76 1265.39V1370.76M1748.16 1265.39H1763.36M1748.16 1370.76H1763.36M1807.73 1197.82V1316.69M1800.13 1197.82H1815.33M1800.13 1316.69H1815.33M1859.7 1379.89V1493.27M1852.1 1379.89H1867.3M1852.1 1493.27H1867.3M1911.67 1515.42V1611.18M1904.07 1515.42H1919.27M1904.07 1611.18H1919.27M1963.64 1520.82V1659.38M1956.04 1520.82H1971.24M1956.04 1659.38H1971.24M2015.61 1577.28V1648.58M2008.01 1577.28H2023.21M2008.01 1648.58H2023.21" fill="none" stroke="#EE5C42" stroke-width="4.5"/>
<line x1="1807.73" y1="1089.7" x2="1807.73" y2="1743.9" stroke="#0000FF" stroke-width="2.4" stroke-dasharray="10.2 7.4 2.6 7.4"/>
<g fill="rgba(238,92,66,0.37)" stroke="rgba(238,92,66,0.42)" stroke-width="1.2">
<circle cx="1602.05" cy="1390.57" r="5.0"/>
<circle cx="1651.19" cy="1428.65" r="5.0"/>
<circle cx="1701.56" cy="1371.4" r="5.0"/>
<circle cx="1699.35" cy="1400.39" r="5.0"/>
<circle cx="1703.77" cy="1429.88" r="5.0"/>
<circle cx="1706.48" cy="1432.58" r="5.0"/>
<circle cx="1708.2" cy="1439.21" r="5.0"/>
<circle cx="1758.81" cy="1135.53" r="5.0"/>
<circle cx="1759.79" cy="1204.57" r="5.0"/>
<circle cx="1758.81" cy="1233.07" r="5.0"/>
<circle cx="1760.04" cy="1246.09" r="5.0"/>
<circle cx="1754.39" cy="1255.18" r="5.0"/>
<circle cx="1756.35" cy="1299.9" r="5.0"/>
<circle cx="1752.42" cy="1316.36" r="5.0"/>
<circle cx="1756.35" cy="1326.93" r="5.0"/>
<circle cx="1753.9" cy="1402.6" r="5.0"/>
<circle cx="1756.6" cy="1434.55" r="5.0"/>
<circle cx="1751.93" cy="1440.93" r="5.0"/>
<circle cx="1813.11" cy="1134.79" r="5.0"/>
<circle cx="1811.39" cy="1156.66" r="5.0"/>
<circle cx="1805" cy="1175.33" r="5.0"/>
<circle cx="1805" cy="1187.37" r="5.0"/>
<circle cx="1812.13" cy="1187.37" r="5.0"/>
<circle cx="1803.53" cy="1194.25" r="5.0"/>
<circle cx="1807.46" cy="1205.31" r="5.0"/>
<circle cx="1812.37" cy="1204.82" r="5.0"/>
<circle cx="1803.04" cy="1243.39" r="5.0"/>
<circle cx="1811.64" cy="1295.48" r="5.0"/>
<circle cx="1810.9" cy="1375.33" r="5.0"/>
<circle cx="1810.16" cy="1388.85" r="5.0"/>
<circle cx="1857.83" cy="1228.4" r="5.0"/>
<circle cx="1860.04" cy="1283.93" r="5.0"/>
<circle cx="1863.72" cy="1335.04" r="5.0"/>
<circle cx="1860.04" cy="1367.47" r="5.0"/>
<circle cx="1855.62" cy="1439.21" r="5.0"/>
<circle cx="1912.37" cy="1398.18" r="5.0"/>
<circle cx="1915.57" cy="1417.1" r="5.0"/>
<circle cx="1963.72" cy="1195.23" r="5.0"/>
<circle cx="1603.04" cy="1562.48" r="5.0"/>
<circle cx="1603.77" cy="1571.57" r="5.0"/>
<circle cx="1605.74" cy="1600.81" r="5.0"/>
<circle cx="1597.14" cy="1627.84" r="5.0"/>
<circle cx="1605.49" cy="1636.19" r="5.0"/>
<circle cx="1595.42" cy="1659.78" r="5.0"/>
<circle cx="1605" cy="1667.89" r="5.0"/>
<circle cx="1597.88" cy="1673.78" r="5.0"/>
<circle cx="1602.55" cy="1681.65" r="5.0"/>
<circle cx="1598.86" cy="1685.09" r="5.0"/>
<circle cx="1605.49" cy="1690.74" r="5.0"/>
<circle cx="1599.84" cy="1695.16" r="5.0"/>
<circle cx="1649.72" cy="1527.35" r="5.0"/>
<circle cx="1653.65" cy="1526.61" r="5.0"/>
<circle cx="1654.63" cy="1536.68" r="5.0"/>
<circle cx="1652.42" cy="1625.14" r="5.0"/>
<circle cx="1656.6" cy="1647.99" r="5.0"/>
<circle cx="1656.35" cy="1658.3" r="5.0"/>
<circle cx="1652.67" cy="1660.52" r="5.0"/>
<circle cx="1655.13" cy="1663.46" r="5.0"/>
<circle cx="1650.7" cy="1668.87" r="5.0"/>
<circle cx="1648.49" cy="1671.33" r="5.0"/>
<circle cx="1653.16" cy="1676.49" r="5.0"/>
<circle cx="1655.86" cy="1687.79" r="5.0"/>
<circle cx="1701.81" cy="1461.25" r="5.0"/>
<circle cx="1702.79" cy="1468.62" r="5.0"/>
<circle cx="1701.56" cy="1528.82" r="5.0"/>
<circle cx="1707.21" cy="1554.13" r="5.0"/>
<circle cx="1706.48" cy="1559.04" r="5.0"/>
<circle cx="1707.21" cy="1619.48" r="5.0"/>
<circle cx="1700.83" cy="1621.94" r="5.0"/>
<circle cx="1703.53" cy="1644.3" r="5.0"/>
<circle cx="1708.69" cy="1642.83" r="5.0"/>
<circle cx="1756.85" cy="1496.39" r="5.0"/>
<circle cx="1808.93" cy="1541.11" r="5.0"/>
<circle cx="1855.62" cy="1467.4" r="5.0"/>
<circle cx="1862.5" cy="1546.02" r="5.0"/>
<circle cx="1856.11" cy="1553.88" r="5.0"/>
<circle cx="1860.53" cy="1558.55" r="5.0"/>
<circle cx="1863.48" cy="1608.67" r="5.0"/>
<circle cx="1912.37" cy="1466.9" r="5.0"/>
<circle cx="1907.71" cy="1482.14" r="5.0"/>
<circle cx="1915.08" cy="1542.83" r="5.0"/>
<circle cx="1914.58" cy="1570.59" r="5.0"/>
<circle cx="1909.43" cy="1596.88" r="5.0"/>
<circle cx="1912.13" cy="1619.73" r="5.0"/>
<circle cx="1913.36" cy="1635.21" r="5.0"/>
<circle cx="1907.46" cy="1636.68" r="5.0"/>
<circle cx="1911.14" cy="1641.84" r="5.0"/>
<circle cx="1911.64" cy="1660.02" r="5.0"/>
<circle cx="1915.08" cy="1674.52" r="5.0"/>
<circle cx="1960.53" cy="1470.59" r="5.0"/>
<circle cx="1968.64" cy="1529.07" r="5.0"/>
<circle cx="1967.41" cy="1566.9" r="5.0"/>
<circle cx="1966.67" cy="1604.25" r="5.0"/>
<circle cx="1962.5" cy="1619.73" r="5.0"/>
<circle cx="1967.66" cy="1626.86" r="5.0"/>
<circle cx="1962" cy="1632.75" r="5.0"/>
<circle cx="1959.06" cy="1646.27" r="5.0"/>
<circle cx="1962" cy="1682.63" r="5.0"/>
<circle cx="1965.69" cy="1687.79" r="5.0"/>
<circle cx="1960.53" cy="1702.53" r="5.0"/>
<circle cx="1958.81" cy="1706.95" r="5.0"/>
<circle cx="2019.25" cy="1492.7" r="5.0"/>
<circle cx="2010.9" cy="1514.32" r="5.0"/>
<circle cx="2016.06" cy="1553.39" r="5.0"/>
<circle cx="2018.02" cy="1560.27" r="5.0"/>
<circle cx="2016.55" cy="1576.73" r="5.0"/>
<circle cx="2018.76" cy="1634.47" r="5.0"/>
<circle cx="2012.86" cy="1644.3" r="5.0"/>
<circle cx="2020.24" cy="1656.83" r="5.0"/>
<circle cx="2015.57" cy="1672.31" r="5.0"/>
<circle cx="2015.32" cy="1690.25" r="5.0"/>
<circle cx="2010.9" cy="1694.67" r="5.0"/>
<circle cx="2016.3" cy="1707.94" r="5.0"/>
</g>
</g>
<text transform="translate(616.35,1105.4) rotate(-90)" font-size="58.5" fill="#0000FF" stroke="#0000FF" stroke-width="0.8" text-anchor="start" x="-11.12" y="30.42">*</text>
<text transform="translate(616.35,1131.4) rotate(-90)" font-size="58.5" fill="#0000FF" stroke="#0000FF" stroke-width="0.8" text-anchor="start" x="-11.12" y="30.42">*</text>
<text transform="translate(668.32,1118.5) rotate(-90)" font-size="58.5" fill="#0000FF" stroke="#0000FF" stroke-width="0.8" text-anchor="start" x="-11.12" y="30.42">*</text>
<text transform="translate(772.26,1118.5) rotate(-90)" font-size="58.5" fill="#0000FF" stroke="#0000FF" stroke-width="0.8" text-anchor="start" x="-11.12" y="30.42">*</text>
<text transform="translate(824.23,1118.5) rotate(-90)" font-size="58.5" fill="#0000FF" stroke="#0000FF" stroke-width="0.8" text-anchor="start" x="-11.12" y="30.42">*</text>
<rect x="767.7" y="1788.2" width="42.6" height="41.8" fill="#BEBEBE" stroke="#EE5C42" stroke-width="2"/>
<line x1="771.3" y1="1809.1" x2="806.7" y2="1809.1" stroke="#EE5C42" stroke-width="6" />
<circle cx="789" cy="1809.1" r="6.6" fill="#C9543F"/>
<text x="826.1" y="1817.8" font-size="23.05" fill="#000" text-anchor="start" >EL high-ADOS</text>
<rect x="1000.9" y="1788.2" width="42.6" height="41.8" fill="#BEBEBE" stroke="#4D4D4D" stroke-width="2"/>
<line x1="1004.5" y1="1809.1" x2="1039.9" y2="1809.1" stroke="#4D4D4D" stroke-width="6" />
<circle cx="1022.2" cy="1809.1" r="6.6" fill="#4D4D4D"/>
<text x="1058.8" y="1817.8" font-size="23.05" fill="#000" text-anchor="start" >Normative (LL controls + Twins)</text>
</g>
</svg></body></html>
